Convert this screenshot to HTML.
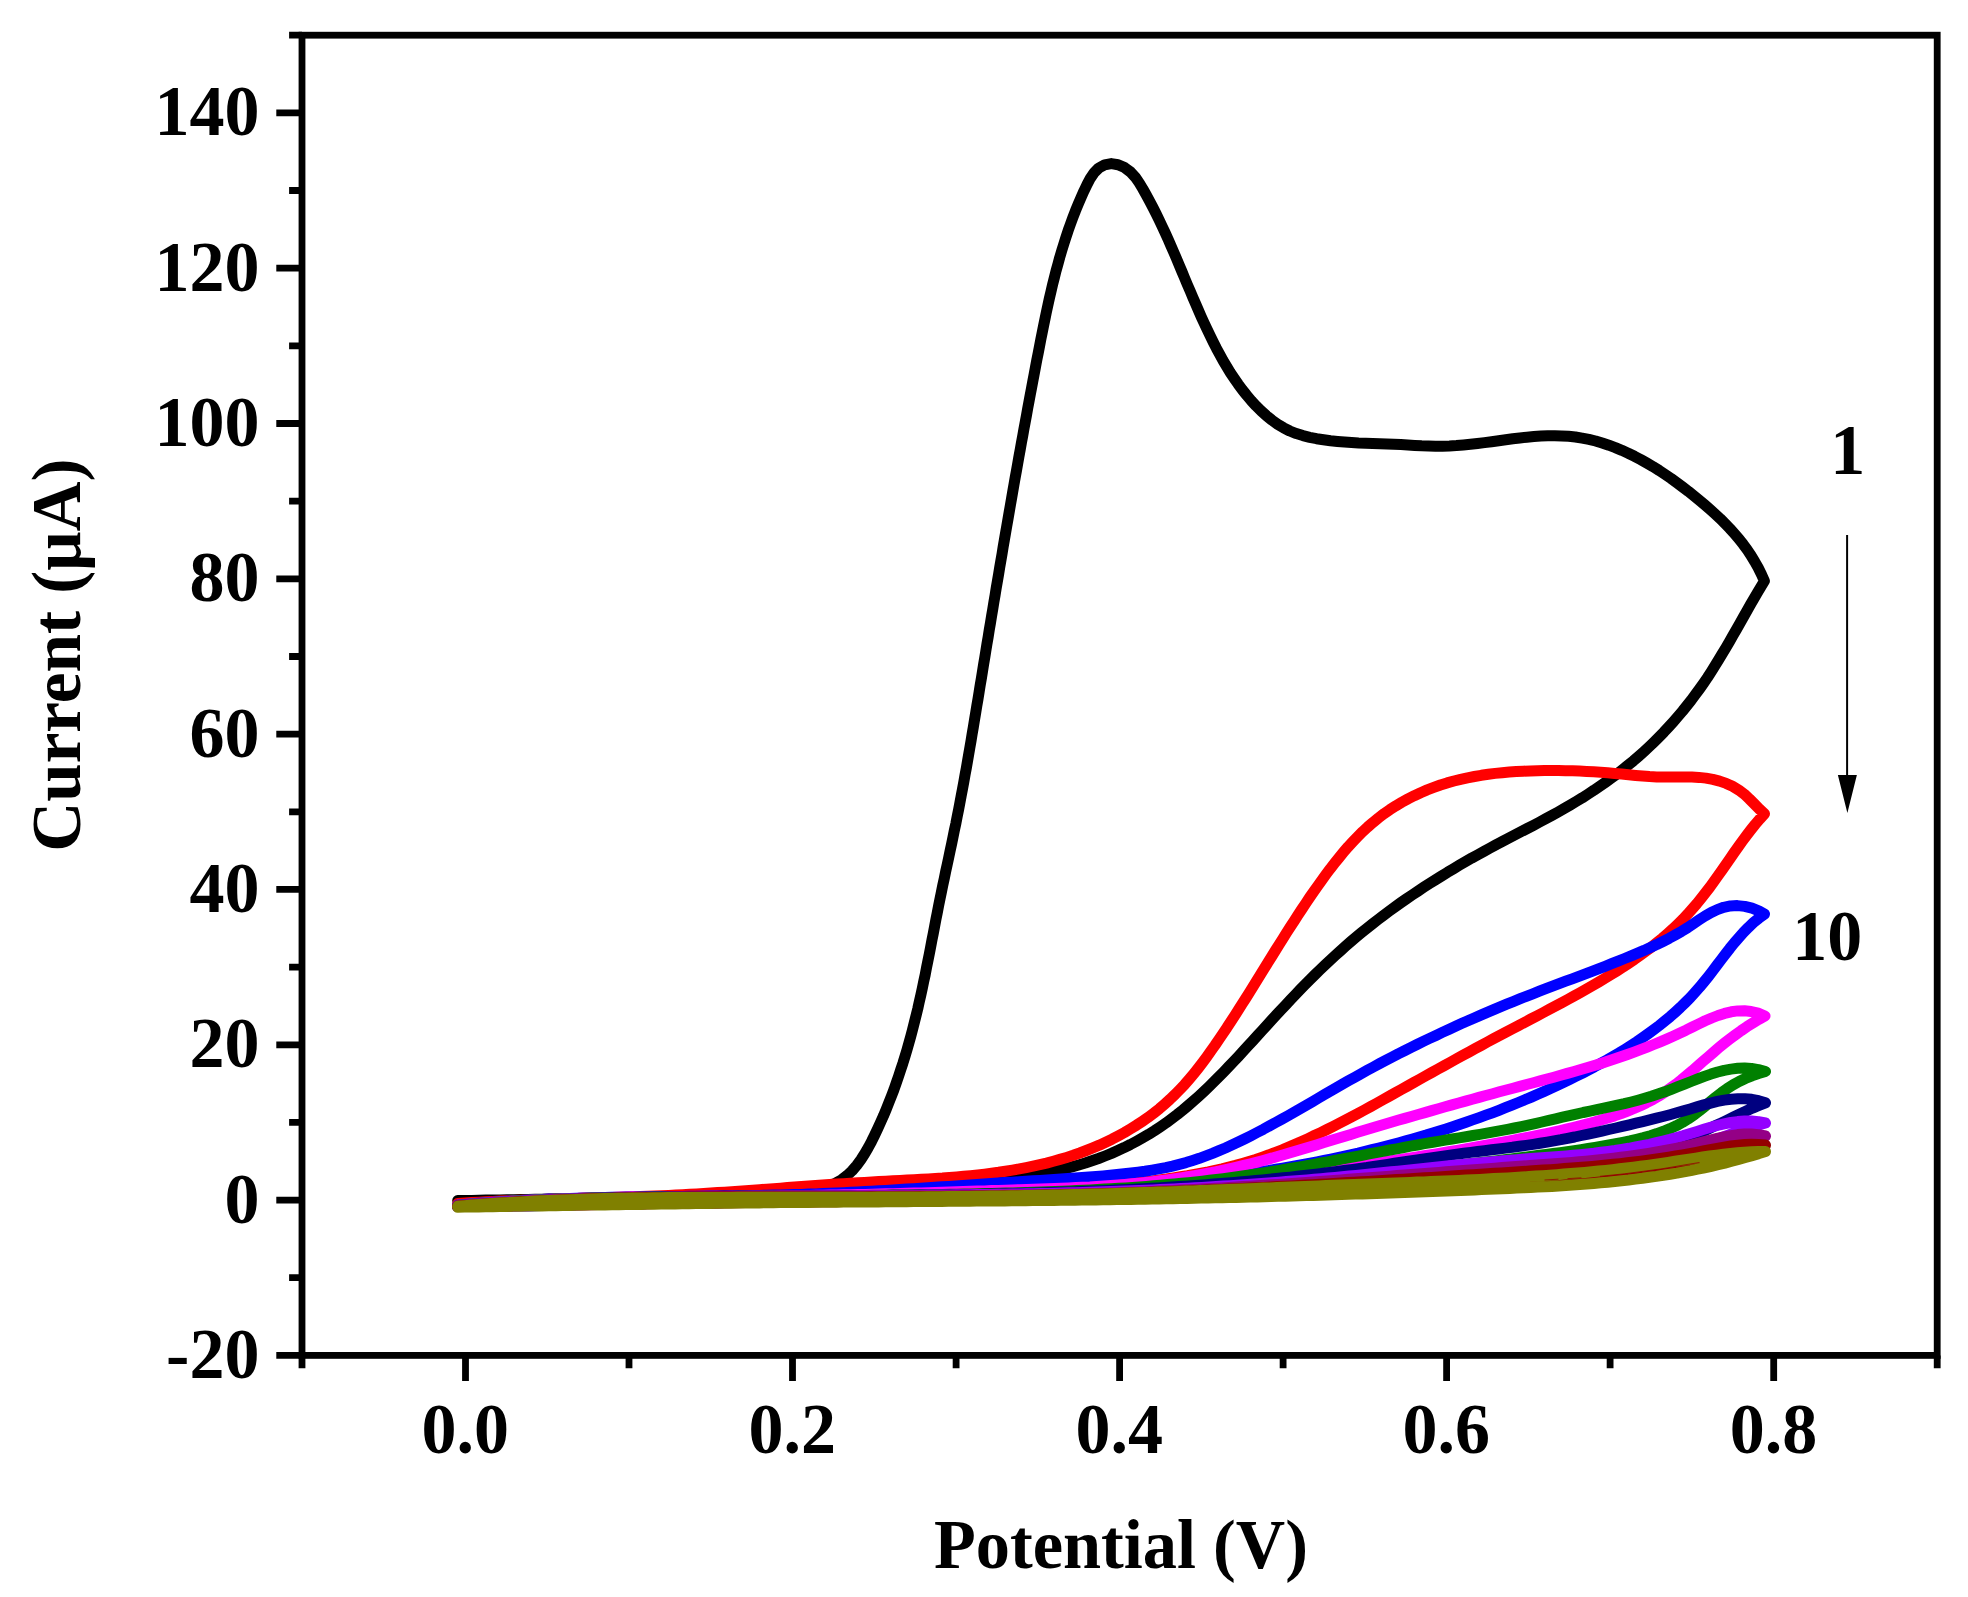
<!DOCTYPE html>
<html lang="en">
<head>
<meta charset="utf-8">
<title>Cyclic voltammograms - Current vs Potential</title>
<style>
html,body{margin:0;padding:0;background:#fff;}
body{width:1968px;height:1597px;overflow:hidden;}
svg{display:block;}
text{font-family:"Liberation Serif",serif;font-weight:bold;fill:#000;}
.tk{font-size:70px;}
.ax{stroke:#000;stroke-width:6.8;fill:none;stroke-linecap:butt;}
.cv{fill:none;stroke-width:11;stroke-linejoin:round;stroke-linecap:round;}
</style>
</head>
<body>
<svg width="1968" height="1597" viewBox="0 0 1968 1597">
<rect x="0" y="0" width="1968" height="1597" fill="#ffffff"/>

<g id="curves">
<path class="cv" stroke="#000000" d="M457.7,1200.6L464.7,1200.5L471.7,1200.4L478.8,1200.2L485.8,1200.1L492.8,1200.0L499.8,1199.9L506.8,1199.8L513.9,1199.7L520.9,1199.5L527.9,1199.4L534.9,1199.3L541.9,1199.2L548.9,1199.1L555.9,1198.9L562.9,1198.8L570.0,1198.7L577.0,1198.6L584.0,1198.4L591.0,1198.3L598.0,1198.2L605.0,1198.0L612.1,1197.9L619.1,1197.8L626.1,1197.6L633.1,1197.5L640.2,1197.3L647.2,1197.2L654.2,1197.0L661.2,1196.8L668.3,1196.6L675.3,1196.4L682.3,1196.2L689.3,1196.0L696.3,1195.8L703.4,1195.5L710.4,1195.2L717.4,1195.0L724.4,1194.7L731.4,1194.4L738.4,1194.0L745.4,1193.7L752.4,1193.3L759.4,1192.9L766.3,1192.5L773.3,1192.1L780.3,1191.6L787.3,1191.1L794.3,1190.6L801.4,1190.0L808.5,1189.3L815.6,1188.5L822.6,1187.3L829.4,1185.6L835.8,1183.1L841.7,1179.7L847.2,1175.4L852.2,1170.6L856.8,1165.2L861.0,1159.5L864.8,1153.6L868.3,1147.5L871.6,1141.3L874.7,1135.0L877.7,1128.6L880.6,1122.2L883.5,1115.8L886.2,1109.3L888.8,1102.8L891.4,1096.3L893.9,1089.7L896.2,1083.1L898.5,1076.5L900.7,1069.8L902.9,1063.2L905.0,1056.4L907.0,1049.7L908.9,1043.0L910.8,1036.2L912.6,1029.4L914.3,1022.6L916.0,1015.8L917.7,1009.0L919.2,1002.1L920.8,995.3L922.3,988.4L923.7,981.5L925.2,974.7L926.5,967.8L927.9,960.9L929.3,954.0L930.6,947.2L931.9,940.3L933.3,933.4L934.6,926.5L935.9,919.6L937.3,912.7L938.6,905.8L940.0,898.9L941.4,892.1L942.8,885.2L944.3,878.3L945.7,871.4L947.2,864.6L948.7,857.7L950.1,850.8L951.6,844.0L953.0,837.1L954.4,830.2L955.9,823.3L957.2,816.4L958.6,809.6L959.9,802.7L961.2,795.8L962.5,788.9L963.8,782.0L965.0,775.1L966.3,768.2L967.5,761.3L968.7,754.3L969.9,747.4L971.1,740.5L972.2,733.6L973.4,726.7L974.5,719.8L975.7,712.8L976.8,705.9L978.0,699.0L979.1,692.1L980.2,685.1L981.4,678.2L982.5,671.3L983.6,664.4L984.8,657.4L985.9,650.5L987.0,643.6L988.2,636.7L989.3,629.7L990.5,622.8L991.6,615.9L992.8,608.9L993.9,602.0L995.1,595.1L996.2,588.2L997.4,581.3L998.6,574.3L999.7,567.4L1000.9,560.5L1002.1,553.6L1003.2,546.6L1004.4,539.7L1005.6,532.8L1006.8,525.9L1008.0,519.0L1009.2,512.0L1010.4,505.1L1011.6,498.2L1012.8,491.3L1014.0,484.4L1015.2,477.5L1016.5,470.5L1017.7,463.6L1018.9,456.7L1020.2,449.8L1021.4,442.9L1022.7,436.0L1023.9,429.1L1025.2,422.2L1026.5,415.3L1027.7,408.4L1029.0,401.5L1030.3,394.6L1031.6,387.7L1032.9,380.8L1034.2,373.9L1035.5,367.0L1036.8,360.1L1038.2,353.2L1039.5,346.4L1040.8,339.5L1042.2,332.6L1043.6,325.7L1045.0,318.9L1046.4,312.0L1047.9,305.1L1049.4,298.3L1051.0,291.5L1052.6,284.6L1054.3,277.8L1056.0,271.0L1057.9,264.3L1059.7,257.5L1061.7,250.8L1063.8,244.0L1065.9,237.3L1068.1,230.7L1070.5,224.0L1072.9,217.4L1075.5,210.7L1078.2,204.2L1081.0,197.6L1083.9,191.1L1087.0,184.6L1090.3,178.3L1094.2,172.6L1098.8,168.0L1104.6,164.9L1111.3,163.6L1118.1,164.7L1124.6,167.6L1130.5,172.0L1135.3,177.2L1139.3,183.0L1142.9,189.0L1146.4,195.2L1149.7,201.3L1153.0,207.6L1156.1,213.8L1159.2,220.1L1162.2,226.5L1165.2,232.9L1168.1,239.3L1170.9,245.7L1173.7,252.1L1176.5,258.6L1179.2,265.1L1181.9,271.5L1184.6,278.0L1187.3,284.5L1190.1,290.9L1192.8,297.4L1195.6,303.8L1198.4,310.3L1201.2,316.7L1204.1,323.1L1207.1,329.4L1210.1,335.7L1213.2,342.0L1216.4,348.3L1219.7,354.4L1223.1,360.6L1226.7,366.6L1230.3,372.6L1234.2,378.4L1238.2,384.2L1242.3,389.8L1246.7,395.3L1251.3,400.7L1256.1,405.9L1261.1,410.9L1266.4,415.7L1271.9,420.1L1277.6,424.2L1283.6,427.8L1289.8,431.0L1296.3,433.6L1302.9,435.6L1309.7,437.3L1316.6,438.7L1323.5,439.8L1330.5,440.8L1337.5,441.5L1344.5,442.1L1351.6,442.6L1358.6,443.0L1365.7,443.2L1372.7,443.5L1379.8,443.7L1386.8,444.0L1393.8,444.3L1400.8,444.6L1407.8,445.0L1414.7,445.4L1421.6,445.8L1428.5,446.0L1435.5,446.2L1442.4,446.2L1449.4,446.0L1456.4,445.6L1463.4,445.0L1470.4,444.3L1477.5,443.5L1484.5,442.6L1491.6,441.7L1498.7,440.7L1505.7,439.8L1512.8,438.8L1519.8,438.0L1526.9,437.2L1533.9,436.6L1540.9,436.1L1547.8,435.8L1554.8,435.7L1561.7,435.9L1568.5,436.3L1575.4,437.0L1582.1,438.1L1588.9,439.4L1595.6,441.0L1602.2,443.0L1608.8,445.2L1615.3,447.6L1621.8,450.3L1628.2,453.2L1634.5,456.3L1640.8,459.6L1647.0,463.1L1653.1,466.7L1659.2,470.5L1665.2,474.5L1671.1,478.5L1676.9,482.7L1682.6,487.0L1688.3,491.3L1693.8,495.8L1699.3,500.3L1704.7,504.8L1710.0,509.4L1715.1,514.0L1720.2,518.7L1725.1,523.6L1729.8,528.5L1734.4,533.6L1738.9,538.8L1743.1,544.2L1747.2,549.8L1751.1,555.6L1754.7,561.6L1758.2,567.8L1761.4,574.3L1764.4,581.0L1760.8,587.0L1757.2,593.0L1753.7,599.0L1750.2,605.1L1746.7,611.2L1743.3,617.3L1739.8,623.4L1736.4,629.5L1732.9,635.6L1729.4,641.7L1725.9,647.7L1722.3,653.7L1718.7,659.7L1715.0,665.7L1711.3,671.6L1707.5,677.5L1703.5,683.3L1699.5,689.0L1695.4,694.6L1691.2,700.2L1686.8,705.7L1682.4,711.2L1677.9,716.5L1673.3,721.8L1668.6,727.0L1663.9,732.1L1659.0,737.1L1654.0,742.1L1649.0,746.9L1643.8,751.7L1638.6,756.3L1633.3,760.9L1627.9,765.3L1622.4,769.7L1616.9,774.0L1611.3,778.1L1605.6,782.2L1599.8,786.2L1594.0,790.2L1588.2,794.0L1582.3,797.8L1576.3,801.4L1570.3,805.0L1564.2,808.6L1558.2,812.0L1552.0,815.4L1545.9,818.7L1539.7,822.0L1533.5,825.3L1527.3,828.5L1521.1,831.7L1514.9,834.9L1508.7,838.1L1502.5,841.4L1496.3,844.6L1490.1,848.0L1484.0,851.3L1477.9,854.7L1471.7,858.1L1465.7,861.6L1459.6,865.1L1453.6,868.7L1447.5,872.3L1441.6,876.0L1435.6,879.7L1429.7,883.4L1423.8,887.2L1418.0,891.1L1412.1,895.0L1406.4,898.9L1400.6,902.9L1394.9,907.0L1389.2,911.1L1383.6,915.3L1378.1,919.5L1372.5,923.8L1367.0,928.2L1361.6,932.6L1356.2,937.0L1350.9,941.5L1345.6,946.1L1340.4,950.8L1335.2,955.5L1330.1,960.2L1325.0,965.0L1319.9,969.9L1314.9,974.8L1310.0,979.7L1305.0,984.7L1300.1,989.7L1295.3,994.7L1290.5,999.8L1285.7,1004.9L1280.9,1010.0L1276.2,1015.1L1271.4,1020.3L1266.7,1025.4L1262.0,1030.6L1257.3,1035.8L1252.6,1041.0L1247.9,1046.1L1243.1,1051.3L1238.4,1056.4L1233.6,1061.5L1228.7,1066.6L1223.9,1071.7L1219.0,1076.7L1214.0,1081.7L1209.0,1086.6L1203.9,1091.5L1198.8,1096.2L1193.5,1100.9L1188.2,1105.5L1182.9,1110.0L1177.4,1114.4L1171.8,1118.6L1166.2,1122.8L1160.5,1126.7L1154.6,1130.6L1148.7,1134.3L1142.7,1137.8L1136.6,1141.2L1130.4,1144.5L1124.2,1147.6L1117.8,1150.6L1111.5,1153.4L1105.0,1156.0L1098.5,1158.5L1091.9,1160.8L1085.3,1163.0L1078.6,1165.0L1071.9,1166.9L1065.1,1168.6L1058.3,1170.2L1051.5,1171.7L1044.6,1173.0L1037.7,1174.3L1030.8,1175.4L1023.8,1176.5L1016.9,1177.5L1009.9,1178.4L1002.9,1179.2L995.9,1180.0L988.9,1180.7L981.9,1181.4L974.8,1182.1L967.8,1182.7L960.9,1183.3L953.9,1183.8L946.9,1184.4L939.9,1184.9L933.0,1185.4L926.0,1185.9L919.0,1186.4L912.1,1186.9L905.1,1187.4L898.2,1187.8L891.2,1188.2L884.2,1188.7L877.3,1189.1L870.3,1189.5L863.3,1189.9L856.3,1190.3L849.3,1190.7L842.3,1191.2L835.3,1191.6L828.3,1192.1L821.3,1192.5L814.3,1193.0L807.4,1193.5L800.4,1194.1L793.4,1194.7L786.4,1195.3L779.4,1195.9L772.4,1196.5L765.5,1197.2L758.5,1197.8L751.5,1198.3L744.5,1198.9L737.6,1199.4L730.6,1199.9L723.6,1200.3L716.6,1200.8L709.7,1201.2L702.7,1201.5L695.7,1201.8L688.7,1202.1L681.7,1202.4L674.7,1202.7L667.7,1202.9L660.7,1203.1L653.7,1203.3L646.7,1203.5L639.7,1203.6L632.7,1203.7L625.7,1203.8L618.7,1204.0L611.7,1204.1L604.7,1204.1L597.7,1204.2L590.7,1204.3L583.7,1204.4L576.7,1204.5L569.7,1204.6L562.7,1204.7L555.7,1204.8L548.7,1204.9L541.7,1205.0L534.7,1205.2L527.7,1205.3L520.7,1205.5L513.7,1205.6L506.7,1205.8L499.7,1205.9L492.7,1206.0L485.7,1206.1L478.7,1206.2L471.7,1206.3L464.7,1206.2L457.7,1206.2"/>
<path class="cv" stroke="#FF0000" d="M457.7,1203.5L464.7,1203.0L471.7,1202.6L478.7,1202.2L485.7,1201.8L492.7,1201.5L499.7,1201.1L506.7,1200.8L513.7,1200.5L520.7,1200.2L527.8,1200.0L534.8,1199.7L541.9,1199.5L548.9,1199.3L556.0,1199.1L563.0,1198.9L570.1,1198.7L577.1,1198.5L584.2,1198.3L591.2,1198.1L598.3,1197.9L605.3,1197.7L612.4,1197.5L619.4,1197.2L626.5,1197.0L633.5,1196.8L640.6,1196.5L647.6,1196.3L654.6,1196.0L661.7,1195.7L668.7,1195.4L675.7,1195.1L682.7,1194.7L689.7,1194.3L696.7,1193.9L703.7,1193.5L710.7,1193.1L717.7,1192.6L724.7,1192.2L731.7,1191.7L738.7,1191.2L745.7,1190.7L752.6,1190.2L759.6,1189.7L766.6,1189.2L773.6,1188.7L780.6,1188.2L787.5,1187.6L794.5,1187.1L801.5,1186.6L808.5,1186.1L815.5,1185.6L822.5,1185.1L829.5,1184.6L836.6,1184.1L843.6,1183.7L850.6,1183.2L857.7,1182.8L864.7,1182.4L871.8,1182.0L878.8,1181.6L885.9,1181.2L893.0,1180.8L900.0,1180.5L907.1,1180.1L914.2,1179.7L921.3,1179.3L928.4,1178.9L935.4,1178.4L942.5,1178.0L949.5,1177.4L956.6,1176.9L963.6,1176.3L970.6,1175.6L977.7,1174.9L984.6,1174.1L991.6,1173.2L998.6,1172.3L1005.5,1171.2L1012.4,1170.1L1019.3,1168.9L1026.1,1167.6L1033.0,1166.2L1039.8,1164.7L1046.5,1163.1L1053.3,1161.3L1059.9,1159.4L1066.6,1157.4L1073.2,1155.3L1079.8,1153.0L1086.3,1150.5L1092.8,1147.9L1099.3,1145.2L1105.7,1142.2L1112.0,1139.2L1118.3,1135.9L1124.5,1132.5L1130.5,1128.9L1136.5,1125.2L1142.4,1121.3L1148.2,1117.3L1153.8,1113.1L1159.4,1108.7L1164.7,1104.1L1169.9,1099.4L1175.0,1094.5L1179.9,1089.5L1184.7,1084.4L1189.3,1079.1L1193.8,1073.7L1198.2,1068.2L1202.5,1062.6L1206.7,1056.9L1210.8,1051.1L1214.9,1045.4L1218.9,1039.5L1222.8,1033.7L1226.8,1027.8L1230.6,1021.9L1234.5,1016.0L1238.3,1010.1L1242.0,1004.2L1245.8,998.2L1249.5,992.3L1253.2,986.3L1256.9,980.3L1260.6,974.4L1264.3,968.4L1268.0,962.4L1271.7,956.5L1275.4,950.5L1279.1,944.6L1282.9,938.6L1286.6,932.7L1290.4,926.8L1294.2,920.9L1298.0,915.0L1301.9,909.1L1305.8,903.3L1309.7,897.4L1313.7,891.6L1317.8,885.9L1321.9,880.1L1326.0,874.4L1330.2,868.8L1334.6,863.2L1339.0,857.7L1343.4,852.3L1348.0,846.9L1352.8,841.7L1357.6,836.7L1362.6,831.7L1367.7,827.0L1373.0,822.4L1378.4,818.0L1384.0,813.7L1389.8,809.7L1395.7,805.9L1401.8,802.3L1408.0,798.9L1414.3,795.7L1420.7,792.7L1427.2,789.9L1433.8,787.4L1440.4,785.0L1447.1,782.9L1453.9,781.0L1460.7,779.3L1467.5,777.8L1474.4,776.5L1481.3,775.3L1488.3,774.3L1495.2,773.4L1502.2,772.7L1509.2,772.1L1516.3,771.6L1523.3,771.2L1530.3,770.9L1537.4,770.7L1544.4,770.6L1551.4,770.5L1558.5,770.6L1565.5,770.7L1572.5,770.8L1579.6,771.1L1586.6,771.4L1593.6,771.8L1600.6,772.3L1607.6,772.8L1614.6,773.5L1621.6,774.1L1628.6,774.8L1635.6,775.5L1642.6,776.1L1649.6,776.6L1656.7,776.9L1663.7,777.1L1670.8,777.1L1677.8,777.0L1684.9,776.9L1691.9,777.0L1698.9,777.4L1705.9,778.1L1712.8,779.4L1719.6,781.1L1726.2,783.4L1732.5,786.3L1738.6,789.9L1744.2,794.1L1749.4,799.0L1754.4,804.0L1759.4,809.1L1764.5,813.8L1759.8,819.0L1755.3,824.3L1750.9,829.8L1746.6,835.4L1742.4,841.0L1738.3,846.7L1734.2,852.5L1730.2,858.3L1726.2,864.1L1722.2,869.9L1718.1,875.6L1714.0,881.4L1709.9,887.1L1705.6,892.7L1701.3,898.2L1696.9,903.6L1692.3,908.9L1687.7,914.1L1682.9,919.2L1677.9,924.1L1672.9,928.9L1667.7,933.6L1662.4,938.2L1657.0,942.6L1651.5,947.0L1645.9,951.2L1640.2,955.3L1634.5,959.4L1628.6,963.3L1622.8,967.2L1616.8,971.0L1610.9,974.7L1604.8,978.4L1598.8,982.0L1592.7,985.5L1586.6,989.0L1580.5,992.5L1574.3,995.9L1568.2,999.3L1562.0,1002.6L1555.8,1005.9L1549.6,1009.2L1543.4,1012.5L1537.1,1015.8L1530.9,1019.0L1524.7,1022.3L1518.5,1025.6L1512.2,1028.8L1506.0,1032.1L1499.8,1035.4L1493.6,1038.7L1487.4,1042.0L1481.3,1045.4L1475.1,1048.7L1468.9,1052.1L1462.7,1055.4L1456.6,1058.8L1450.4,1062.2L1444.3,1065.6L1438.1,1069.0L1432.0,1072.4L1425.9,1075.8L1419.7,1079.2L1413.6,1082.6L1407.4,1086.1L1401.3,1089.5L1395.2,1092.9L1389.0,1096.4L1382.9,1099.8L1376.7,1103.2L1370.6,1106.6L1364.4,1110.0L1358.2,1113.3L1352.0,1116.6L1345.8,1119.9L1339.5,1123.1L1333.3,1126.3L1327.0,1129.5L1320.7,1132.6L1314.3,1135.6L1308.0,1138.6L1301.6,1141.5L1295.1,1144.3L1288.7,1147.1L1282.2,1149.8L1275.6,1152.3L1269.1,1154.8L1262.5,1157.1L1255.8,1159.4L1249.1,1161.5L1242.4,1163.5L1235.6,1165.4L1228.8,1167.1L1222.0,1168.8L1215.1,1170.3L1208.3,1171.8L1201.4,1173.1L1194.5,1174.4L1187.5,1175.7L1180.6,1176.8L1173.7,1177.9L1166.7,1179.0L1159.8,1179.9L1152.8,1180.9L1145.9,1181.7L1138.9,1182.5L1131.9,1183.3L1124.9,1184.0L1117.9,1184.7L1110.9,1185.3L1103.9,1185.9L1096.9,1186.5L1089.9,1187.0L1082.9,1187.5L1075.9,1188.0L1068.9,1188.4L1061.8,1188.8L1054.8,1189.2L1047.8,1189.6L1040.8,1189.9L1033.7,1190.3L1026.7,1190.6L1019.7,1190.9L1012.6,1191.2L1005.6,1191.5L998.6,1191.8L991.5,1192.2L984.5,1192.5L977.5,1192.8L970.5,1193.1L963.4,1193.4L956.4,1193.7L949.4,1194.0L942.4,1194.3L935.4,1194.6L928.3,1194.9L921.3,1195.2L914.3,1195.5L907.3,1195.8L900.3,1196.1L893.2,1196.4L886.2,1196.6L879.2,1196.9L872.2,1197.2L865.2,1197.5L858.2,1197.7L851.1,1198.0L844.1,1198.3L837.1,1198.5L830.1,1198.8L823.1,1199.0L816.1,1199.3L809.0,1199.5L802.0,1199.7L795.0,1199.9L788.0,1200.2L780.9,1200.4L773.9,1200.6L766.9,1200.8L759.9,1201.0L752.8,1201.2L745.8,1201.4L738.8,1201.5L731.8,1201.7L724.7,1201.9L717.7,1202.1L710.7,1202.2L703.7,1202.4L696.6,1202.5L689.6,1202.7L682.6,1202.8L675.5,1203.0L668.5,1203.1L661.5,1203.3L654.5,1203.4L647.4,1203.5L640.4,1203.7L633.4,1203.8L626.3,1203.9L619.3,1204.0L612.3,1204.1L605.3,1204.3L598.2,1204.4L591.2,1204.5L584.2,1204.6L577.1,1204.7L570.1,1204.8L563.1,1204.9L556.1,1205.0L549.0,1205.1L542.0,1205.2L535.0,1205.3L527.9,1205.4L520.9,1205.5L513.9,1205.6L506.9,1205.7L499.8,1205.8L492.8,1205.9L485.8,1206.0L478.8,1206.1L471.7,1206.2L464.7,1206.3L457.7,1206.4"/>
<path class="cv" stroke="#0000FF" d="M457.7,1205.1L464.7,1204.5L471.7,1203.8L478.7,1203.3L485.7,1202.7L492.7,1202.2L499.7,1201.7L506.7,1201.3L513.7,1200.9L520.7,1200.5L527.8,1200.1L534.8,1199.8L541.8,1199.4L548.8,1199.1L555.8,1198.9L562.8,1198.6L569.8,1198.4L576.9,1198.2L583.9,1198.0L590.9,1197.8L597.9,1197.6L604.9,1197.5L612.0,1197.3L619.0,1197.2L626.0,1197.1L633.0,1197.0L640.1,1196.9L647.1,1196.8L654.1,1196.7L661.1,1196.6L668.2,1196.6L675.2,1196.5L682.2,1196.4L689.2,1196.3L696.3,1196.3L703.3,1196.2L710.3,1196.1L717.3,1196.0L724.4,1196.0L731.4,1195.9L738.4,1195.8L745.4,1195.7L752.5,1195.5L759.5,1195.4L766.5,1195.3L773.5,1195.1L780.5,1195.0L787.6,1194.8L794.6,1194.6L801.6,1194.4L808.6,1194.1L815.6,1193.9L822.7,1193.6L829.7,1193.3L836.7,1193.0L843.7,1192.7L850.7,1192.3L857.7,1192.0L864.7,1191.6L871.8,1191.2L878.8,1190.8L885.8,1190.4L892.8,1190.0L899.8,1189.6L906.8,1189.1L913.8,1188.7L920.8,1188.2L927.8,1187.8L934.8,1187.3L941.8,1186.8L948.9,1186.4L955.9,1185.9L962.9,1185.4L969.9,1184.9L976.9,1184.5L983.9,1184.0L990.9,1183.5L997.9,1183.1L1004.9,1182.6L1011.9,1182.2L1018.9,1181.7L1025.9,1181.3L1033.0,1180.8L1040.0,1180.4L1047.0,1180.0L1054.0,1179.5L1061.0,1179.1L1068.0,1178.6L1075.0,1178.1L1082.0,1177.6L1089.0,1177.0L1096.0,1176.5L1103.0,1175.9L1110.0,1175.2L1117.0,1174.5L1124.0,1173.8L1131.0,1173.0L1138.0,1172.1L1144.9,1171.2L1151.9,1170.1L1158.8,1168.9L1165.7,1167.6L1172.5,1166.1L1179.3,1164.4L1186.0,1162.6L1192.7,1160.5L1199.3,1158.3L1205.9,1155.9L1212.5,1153.4L1219.0,1150.7L1225.4,1148.0L1231.8,1145.1L1238.2,1142.1L1244.5,1139.0L1250.8,1135.8L1257.1,1132.5L1263.3,1129.3L1269.5,1125.9L1275.7,1122.5L1281.9,1119.1L1288.0,1115.7L1294.1,1112.2L1300.2,1108.7L1306.3,1105.2L1312.4,1101.7L1318.4,1098.1L1324.5,1094.6L1330.6,1091.1L1336.7,1087.6L1342.7,1084.1L1348.8,1080.6L1354.9,1077.2L1361.1,1073.7L1367.2,1070.3L1373.4,1067.0L1379.5,1063.7L1385.7,1060.4L1392.0,1057.2L1398.2,1053.9L1404.5,1050.8L1410.7,1047.6L1417.0,1044.5L1423.3,1041.4L1429.6,1038.4L1436.0,1035.4L1442.3,1032.4L1448.7,1029.4L1455.1,1026.5L1461.5,1023.6L1467.9,1020.8L1474.3,1017.9L1480.8,1015.1L1487.2,1012.4L1493.7,1009.6L1500.2,1006.9L1506.7,1004.2L1513.2,1001.6L1519.7,998.9L1526.3,996.3L1532.8,993.8L1539.4,991.2L1545.9,988.7L1552.5,986.2L1559.1,983.7L1565.7,981.2L1572.2,978.8L1578.8,976.3L1585.4,973.8L1592.0,971.3L1598.5,968.8L1605.1,966.3L1611.6,963.7L1618.1,961.1L1624.6,958.5L1631.1,955.8L1637.6,953.1L1644.0,950.4L1650.4,947.5L1656.7,944.6L1663.0,941.5L1669.2,938.3L1675.4,934.9L1681.5,931.4L1687.5,927.7L1693.4,923.7L1699.2,919.8L1705.1,916.0L1711.2,912.5L1717.3,909.6L1723.7,907.3L1730.4,905.9L1737.4,905.6L1744.7,906.4L1752.0,908.2L1758.7,910.8L1764.5,914.0L1758.9,918.2L1753.5,922.6L1748.4,927.4L1743.5,932.4L1738.9,937.6L1734.3,942.9L1729.9,948.3L1725.6,953.9L1721.3,959.5L1717.0,965.1L1712.8,970.7L1708.5,976.3L1704.1,981.8L1699.6,987.2L1695.0,992.4L1690.3,997.6L1685.4,1002.5L1680.4,1007.4L1675.3,1012.1L1670.1,1016.7L1664.8,1021.1L1659.3,1025.5L1653.8,1029.7L1648.2,1033.8L1642.5,1037.8L1636.7,1041.8L1630.9,1045.6L1625.0,1049.3L1619.0,1053.0L1612.9,1056.5L1606.9,1060.0L1600.7,1063.4L1594.5,1066.8L1588.3,1070.0L1582.1,1073.3L1575.8,1076.4L1569.5,1079.5L1563.2,1082.6L1556.9,1085.6L1550.5,1088.5L1544.1,1091.4L1537.7,1094.3L1531.3,1097.1L1524.9,1099.8L1518.4,1102.5L1511.9,1105.1L1505.4,1107.7L1498.9,1110.3L1492.4,1112.8L1485.8,1115.2L1479.2,1117.6L1472.6,1119.9L1466.0,1122.2L1459.4,1124.5L1452.8,1126.7L1446.1,1128.9L1439.4,1131.0L1432.8,1133.0L1426.1,1135.1L1419.3,1137.0L1412.6,1139.0L1405.9,1140.9L1399.1,1142.7L1392.3,1144.5L1385.6,1146.3L1378.8,1148.0L1372.0,1149.7L1365.2,1151.3L1358.3,1153.0L1351.5,1154.5L1344.7,1156.0L1337.8,1157.5L1330.9,1159.0L1324.1,1160.4L1317.2,1161.8L1310.3,1163.1L1303.4,1164.4L1296.5,1165.7L1289.6,1166.9L1282.7,1168.1L1275.8,1169.2L1268.9,1170.4L1261.9,1171.4L1255.0,1172.5L1248.0,1173.5L1241.1,1174.5L1234.2,1175.5L1227.2,1176.4L1220.3,1177.3L1213.3,1178.2L1206.4,1179.0L1199.4,1179.8L1192.4,1180.6L1185.5,1181.3L1178.5,1182.1L1171.5,1182.8L1164.6,1183.4L1157.6,1184.1L1150.6,1184.7L1143.7,1185.3L1136.7,1185.9L1129.7,1186.4L1122.7,1187.0L1115.8,1187.5L1108.8,1187.9L1101.8,1188.4L1094.8,1188.9L1087.8,1189.3L1080.8,1189.7L1073.9,1190.1L1066.9,1190.5L1059.9,1190.9L1052.9,1191.2L1045.9,1191.5L1038.9,1191.9L1031.9,1192.2L1024.9,1192.5L1017.9,1192.8L1010.9,1193.0L1003.9,1193.3L996.9,1193.6L989.9,1193.8L982.9,1194.0L975.9,1194.3L968.9,1194.5L961.9,1194.7L954.9,1194.9L947.9,1195.1L940.9,1195.3L933.9,1195.5L926.9,1195.7L919.9,1195.9L912.9,1196.1L905.9,1196.3L898.9,1196.5L891.9,1196.7L884.9,1196.9L877.9,1197.1L870.9,1197.3L863.9,1197.5L856.9,1197.7L849.8,1197.9L842.8,1198.2L835.8,1198.4L828.8,1198.6L821.8,1198.9L814.8,1199.1L807.8,1199.4L800.8,1199.6L793.8,1199.9L786.8,1200.2L779.8,1200.4L772.8,1200.7L765.8,1201.0L758.8,1201.3L751.8,1201.5L744.8,1201.8L737.8,1202.0L730.8,1202.2L723.8,1202.4L716.8,1202.6L709.8,1202.8L702.8,1203.0L695.8,1203.1L688.8,1203.2L681.8,1203.3L674.8,1203.4L667.8,1203.5L660.8,1203.5L653.8,1203.6L646.8,1203.6L639.8,1203.7L632.8,1203.8L625.8,1203.8L618.8,1203.9L611.8,1204.0L604.8,1204.1L597.8,1204.3L590.8,1204.4L583.8,1204.6L576.8,1204.7L569.8,1204.9L562.8,1205.1L555.8,1205.3L548.7,1205.4L541.7,1205.6L534.7,1205.8L527.7,1205.9L520.7,1206.1L513.7,1206.2L506.7,1206.3L499.7,1206.4L492.7,1206.5L485.7,1206.6L478.7,1206.6L471.7,1206.6L464.7,1206.6L457.7,1206.6"/>
<path class="cv" stroke="#FF00FF" d="M457.7,1205.2L464.7,1204.6L471.7,1204.1L478.7,1203.5L485.7,1203.0L492.7,1202.5L499.7,1202.0L506.8,1201.6L513.8,1201.2L520.8,1200.8L527.8,1200.4L534.8,1200.0L541.8,1199.7L548.9,1199.4L555.9,1199.1L562.9,1198.8L569.9,1198.6L576.9,1198.4L584.0,1198.1L591.0,1197.9L598.0,1197.8L605.0,1197.6L612.1,1197.4L619.1,1197.3L626.1,1197.2L633.1,1197.0L640.2,1196.9L647.2,1196.8L654.2,1196.7L661.3,1196.7L668.3,1196.6L675.3,1196.5L682.4,1196.5L689.4,1196.4L696.4,1196.4L703.4,1196.3L710.5,1196.3L717.5,1196.2L724.5,1196.2L731.6,1196.1L738.6,1196.1L745.6,1196.0L752.7,1196.0L759.7,1195.9L766.7,1195.9L773.7,1195.8L780.8,1195.8L787.8,1195.7L794.8,1195.6L801.9,1195.5L808.9,1195.4L815.9,1195.3L822.9,1195.2L830.0,1195.1L837.0,1195.0L844.0,1194.8L851.0,1194.7L858.1,1194.5L865.1,1194.4L872.1,1194.2L879.1,1194.0L886.2,1193.8L893.2,1193.7L900.2,1193.5L907.2,1193.3L914.2,1193.1L921.3,1192.9L928.3,1192.7L935.3,1192.4L942.3,1192.2L949.4,1192.0L956.4,1191.8L963.4,1191.6L970.4,1191.3L977.5,1191.1L984.5,1190.9L991.5,1190.6L998.5,1190.4L1005.6,1190.2L1012.6,1190.0L1019.6,1189.7L1026.7,1189.5L1033.7,1189.3L1040.7,1189.0L1047.8,1188.8L1054.8,1188.5L1061.8,1188.2L1068.8,1187.9L1075.9,1187.6L1082.9,1187.2L1089.9,1186.9L1096.9,1186.4L1103.9,1186.0L1110.9,1185.5L1117.9,1185.0L1124.9,1184.4L1131.9,1183.8L1138.9,1183.1L1145.9,1182.4L1152.9,1181.6L1159.9,1180.8L1166.8,1179.9L1173.8,1178.9L1180.7,1177.9L1187.7,1176.8L1194.6,1175.6L1201.5,1174.4L1208.4,1173.1L1215.3,1171.8L1222.2,1170.4L1229.1,1168.9L1235.9,1167.3L1242.8,1165.7L1249.6,1164.0L1256.4,1162.3L1263.2,1160.5L1270.0,1158.6L1276.7,1156.7L1283.5,1154.8L1290.2,1152.8L1297.0,1150.8L1303.7,1148.8L1310.5,1146.7L1317.2,1144.7L1323.9,1142.6L1330.6,1140.5L1337.3,1138.5L1344.1,1136.4L1350.8,1134.4L1357.5,1132.3L1364.3,1130.3L1371.0,1128.3L1377.7,1126.3L1384.5,1124.3L1391.2,1122.3L1397.9,1120.3L1404.7,1118.4L1411.4,1116.4L1418.2,1114.5L1424.9,1112.6L1431.7,1110.6L1438.4,1108.7L1445.2,1106.8L1452.0,1104.9L1458.7,1103.0L1465.5,1101.1L1472.3,1099.3L1479.0,1097.4L1485.8,1095.5L1492.6,1093.7L1499.4,1091.8L1506.2,1090.0L1513.0,1088.2L1519.8,1086.4L1526.6,1084.5L1533.4,1082.7L1540.2,1080.9L1547.0,1079.0L1553.8,1077.2L1560.6,1075.3L1567.3,1073.4L1574.1,1071.5L1580.8,1069.5L1587.6,1067.5L1594.3,1065.5L1601.0,1063.4L1607.6,1061.3L1614.3,1059.1L1620.9,1056.8L1627.5,1054.5L1634.1,1052.1L1640.6,1049.7L1647.2,1047.1L1653.7,1044.5L1660.2,1041.8L1666.6,1039.1L1673.1,1036.2L1679.5,1033.2L1686.0,1030.2L1692.4,1027.0L1698.8,1023.9L1705.2,1020.8L1711.7,1018.0L1718.1,1015.5L1724.6,1013.4L1731.2,1011.8L1737.8,1010.9L1744.5,1010.8L1751.2,1011.5L1758.1,1013.2L1765.0,1016.0L1758.8,1019.4L1752.8,1023.0L1746.9,1026.7L1741.2,1030.6L1735.5,1034.7L1729.9,1038.9L1724.4,1043.2L1719.0,1047.6L1713.6,1052.2L1708.3,1056.8L1702.9,1061.4L1697.6,1066.1L1692.3,1070.8L1686.9,1075.3L1681.5,1079.8L1675.9,1084.2L1670.3,1088.3L1664.6,1092.3L1658.8,1096.0L1652.8,1099.5L1646.6,1102.7L1640.4,1105.7L1634.0,1108.5L1627.6,1111.1L1621.1,1113.6L1614.5,1115.9L1607.8,1118.0L1601.1,1120.0L1594.4,1122.0L1587.6,1123.8L1580.8,1125.6L1574.0,1127.3L1567.2,1128.9L1560.3,1130.5L1553.5,1132.0L1546.6,1133.5L1539.8,1134.9L1532.9,1136.3L1526.0,1137.7L1519.1,1139.0L1512.3,1140.3L1505.4,1141.6L1498.5,1142.9L1491.6,1144.2L1484.7,1145.4L1477.8,1146.7L1470.9,1147.9L1464.0,1149.1L1457.1,1150.3L1450.1,1151.5L1443.2,1152.6L1436.3,1153.8L1429.4,1154.9L1422.5,1156.0L1415.5,1157.1L1408.6,1158.2L1401.7,1159.2L1394.8,1160.3L1387.8,1161.3L1380.9,1162.3L1374.0,1163.3L1367.0,1164.3L1360.1,1165.2L1353.1,1166.2L1346.2,1167.1L1339.2,1168.0L1332.3,1169.0L1325.4,1169.8L1318.4,1170.7L1311.4,1171.6L1304.5,1172.4L1297.5,1173.2L1290.6,1174.0L1283.6,1174.8L1276.7,1175.6L1269.7,1176.4L1262.7,1177.1L1255.8,1177.9L1248.8,1178.6L1241.8,1179.3L1234.8,1180.0L1227.9,1180.7L1220.9,1181.3L1213.9,1182.0L1206.9,1182.6L1200.0,1183.2L1193.0,1183.8L1186.0,1184.4L1179.0,1185.0L1172.0,1185.5L1165.1,1186.1L1158.1,1186.6L1151.1,1187.1L1144.1,1187.6L1137.1,1188.1L1130.1,1188.6L1123.1,1189.0L1116.1,1189.5L1109.1,1189.9L1102.2,1190.3L1095.2,1190.7L1088.2,1191.1L1081.2,1191.5L1074.2,1191.9L1067.2,1192.3L1060.2,1192.6L1053.2,1192.9L1046.2,1193.3L1039.2,1193.6L1032.2,1193.9L1025.2,1194.2L1018.2,1194.5L1011.2,1194.8L1004.2,1195.1L997.2,1195.3L990.2,1195.6L983.2,1195.9L976.2,1196.1L969.1,1196.3L962.1,1196.6L955.1,1196.8L948.1,1197.0L941.1,1197.2L934.1,1197.4L927.1,1197.6L920.1,1197.8L913.1,1198.0L906.1,1198.2L899.1,1198.4L892.1,1198.6L885.1,1198.7L878.1,1198.9L871.1,1199.1L864.0,1199.2L857.0,1199.4L850.0,1199.6L843.0,1199.7L836.0,1199.9L829.0,1200.0L822.0,1200.2L815.0,1200.3L808.0,1200.5L801.0,1200.6L794.0,1200.8L787.0,1200.9L780.0,1201.0L772.9,1201.2L765.9,1201.3L758.9,1201.5L751.9,1201.6L744.9,1201.8L737.9,1201.9L730.9,1202.1L723.9,1202.2L716.9,1202.3L709.9,1202.5L702.9,1202.6L695.9,1202.8L688.9,1202.9L681.9,1203.0L674.9,1203.2L667.9,1203.3L660.9,1203.5L653.9,1203.6L646.9,1203.7L639.9,1203.9L632.9,1204.0L625.9,1204.1L618.9,1204.3L611.9,1204.4L604.8,1204.5L597.8,1204.6L590.8,1204.7L583.8,1204.9L576.8,1205.0L569.8,1205.1L562.8,1205.2L555.8,1205.3L548.8,1205.4L541.8,1205.5L534.8,1205.6L527.8,1205.7L520.8,1205.8L513.8,1205.9L506.8,1206.0L499.8,1206.1L492.8,1206.2L485.7,1206.3L478.7,1206.4L471.7,1206.5L464.7,1206.5L457.7,1206.6"/>
<path class="cv" stroke="#008000" d="M457.7,1205.4L464.7,1204.7L471.7,1204.1L478.7,1203.5L485.7,1202.9L492.7,1202.4L499.8,1201.9L506.8,1201.4L513.8,1201.0L520.8,1200.6L527.8,1200.3L534.9,1199.9L541.9,1199.6L548.9,1199.4L555.9,1199.1L563.0,1198.9L570.0,1198.7L577.0,1198.5L584.1,1198.3L591.1,1198.1L598.1,1198.0L605.2,1197.8L612.2,1197.7L619.2,1197.6L626.3,1197.5L633.3,1197.4L640.3,1197.3L647.4,1197.2L654.4,1197.1L661.4,1197.0L668.5,1197.0L675.5,1196.9L682.5,1196.8L689.6,1196.7L696.6,1196.7L703.6,1196.6L710.7,1196.5L717.7,1196.5L724.7,1196.4L731.8,1196.4L738.8,1196.3L745.8,1196.3L752.9,1196.2L759.9,1196.2L766.9,1196.1L774.0,1196.0L781.0,1196.0L788.0,1195.9L795.1,1195.9L802.1,1195.8L809.1,1195.8L816.2,1195.8L823.2,1195.7L830.2,1195.6L837.3,1195.6L844.3,1195.5L851.3,1195.5L858.4,1195.4L865.4,1195.4L872.4,1195.3L879.5,1195.2L886.5,1195.2L893.5,1195.1L900.6,1195.0L907.6,1194.9L914.6,1194.8L921.7,1194.8L928.7,1194.7L935.7,1194.5L942.8,1194.4L949.8,1194.3L956.8,1194.2L963.9,1194.1L970.9,1193.9L977.9,1193.8L984.9,1193.6L992.0,1193.4L999.0,1193.3L1006.0,1193.1L1013.1,1192.9L1020.1,1192.7L1027.1,1192.4L1034.2,1192.2L1041.2,1192.0L1048.2,1191.7L1055.3,1191.4L1062.3,1191.2L1069.3,1190.9L1076.4,1190.6L1083.4,1190.2L1090.4,1189.9L1097.4,1189.5L1104.5,1189.1L1111.5,1188.7L1118.5,1188.3L1125.5,1187.9L1132.5,1187.4L1139.5,1186.9L1146.5,1186.4L1153.6,1185.8L1160.6,1185.2L1167.6,1184.6L1174.6,1184.0L1181.6,1183.3L1188.5,1182.6L1195.5,1181.9L1202.5,1181.1L1209.5,1180.3L1216.5,1179.5L1223.5,1178.6L1230.4,1177.7L1237.4,1176.8L1244.3,1175.8L1251.3,1174.8L1258.2,1173.7L1265.2,1172.6L1272.1,1171.5L1279.1,1170.4L1286.0,1169.2L1292.9,1168.0L1299.9,1166.8L1306.8,1165.6L1313.7,1164.3L1320.7,1163.0L1327.6,1161.8L1334.5,1160.5L1341.4,1159.2L1348.3,1157.9L1355.3,1156.6L1362.2,1155.3L1369.1,1153.9L1376.0,1152.6L1382.9,1151.3L1389.9,1150.0L1396.8,1148.8L1403.7,1147.5L1410.6,1146.2L1417.5,1145.0L1424.5,1143.7L1431.4,1142.5L1438.3,1141.3L1445.2,1140.1L1452.2,1139.0L1459.1,1137.8L1466.0,1136.7L1473.0,1135.5L1479.9,1134.4L1486.8,1133.2L1493.7,1131.9L1500.6,1130.7L1507.5,1129.4L1514.4,1128.0L1521.3,1126.6L1528.2,1125.1L1535.1,1123.6L1541.9,1122.0L1548.8,1120.4L1555.6,1118.8L1562.5,1117.2L1569.4,1115.6L1576.2,1114.1L1583.1,1112.5L1590.0,1111.1L1596.8,1109.6L1603.7,1108.2L1610.6,1106.7L1617.4,1105.2L1624.3,1103.7L1631.1,1102.0L1637.8,1100.2L1644.6,1098.3L1651.3,1096.3L1658.0,1094.1L1664.7,1091.8L1671.3,1089.3L1677.9,1086.7L1684.5,1084.1L1691.1,1081.5L1697.7,1078.9L1704.3,1076.4L1710.9,1074.1L1717.6,1072.0L1724.2,1070.3L1731.0,1069.1L1737.7,1068.3L1744.6,1068.0L1751.5,1068.5L1758.4,1069.6L1765.5,1071.5L1758.6,1073.5L1751.9,1075.8L1745.4,1078.5L1739.1,1081.5L1733.0,1084.9L1727.1,1088.7L1721.4,1092.8L1715.9,1097.1L1710.4,1101.6L1705.0,1106.2L1699.5,1110.7L1694.0,1115.0L1688.2,1118.9L1682.3,1122.5L1676.2,1125.8L1669.9,1128.7L1663.5,1131.3L1656.9,1133.6L1650.3,1135.7L1643.5,1137.6L1636.7,1139.3L1629.8,1140.9L1622.9,1142.3L1615.9,1143.7L1609.0,1145.0L1602.0,1146.2L1595.1,1147.4L1588.1,1148.5L1581.1,1149.6L1574.2,1150.6L1567.2,1151.6L1560.2,1152.6L1553.3,1153.5L1546.3,1154.4L1539.3,1155.3L1532.3,1156.2L1525.4,1157.1L1518.4,1158.0L1511.4,1158.9L1504.4,1159.7L1497.4,1160.6L1490.4,1161.4L1483.4,1162.2L1476.5,1163.0L1469.5,1163.8L1462.5,1164.6L1455.5,1165.3L1448.5,1166.1L1441.5,1166.8L1434.5,1167.6L1427.5,1168.3L1420.5,1169.0L1413.5,1169.7L1406.5,1170.4L1399.5,1171.1L1392.5,1171.8L1385.5,1172.5L1378.5,1173.1L1371.5,1173.8L1364.5,1174.4L1357.5,1175.0L1350.5,1175.6L1343.4,1176.2L1336.4,1176.8L1329.4,1177.4L1322.4,1178.0L1315.4,1178.6L1308.4,1179.1L1301.4,1179.7L1294.4,1180.2L1287.3,1180.7L1280.3,1181.3L1273.3,1181.8L1266.3,1182.3L1259.3,1182.8L1252.3,1183.3L1245.2,1183.7L1238.2,1184.2L1231.2,1184.7L1224.2,1185.1L1217.2,1185.6L1210.1,1186.0L1203.1,1186.4L1196.1,1186.9L1189.1,1187.3L1182.0,1187.7L1175.0,1188.1L1168.0,1188.5L1161.0,1188.9L1153.9,1189.2L1146.9,1189.6L1139.9,1190.0L1132.9,1190.3L1125.8,1190.7L1118.8,1191.0L1111.8,1191.4L1104.8,1191.7L1097.7,1192.0L1090.7,1192.3L1083.7,1192.6L1076.7,1192.9L1069.6,1193.2L1062.6,1193.5L1055.6,1193.8L1048.5,1194.1L1041.5,1194.4L1034.5,1194.6L1027.5,1194.9L1020.4,1195.2L1013.4,1195.4L1006.4,1195.7L999.3,1195.9L992.3,1196.1L985.3,1196.4L978.2,1196.6L971.2,1196.8L964.2,1197.0L957.1,1197.2L950.1,1197.5L943.1,1197.7L936.0,1197.9L929.0,1198.1L922.0,1198.2L914.9,1198.4L907.9,1198.6L900.9,1198.8L893.8,1199.0L886.8,1199.1L879.8,1199.3L872.7,1199.5L865.7,1199.6L858.7,1199.8L851.6,1200.0L844.6,1200.1L837.6,1200.3L830.5,1200.4L823.5,1200.6L816.5,1200.7L809.4,1200.8L802.4,1201.0L795.4,1201.1L788.3,1201.2L781.3,1201.4L774.3,1201.5L767.2,1201.6L760.2,1201.7L753.1,1201.9L746.1,1202.0L739.1,1202.1L732.0,1202.2L725.0,1202.3L718.0,1202.4L710.9,1202.6L703.9,1202.7L696.9,1202.8L689.8,1202.9L682.8,1203.0L675.8,1203.1L668.7,1203.2L661.7,1203.3L654.7,1203.4L647.6,1203.5L640.6,1203.6L633.5,1203.7L626.5,1203.8L619.5,1204.0L612.4,1204.1L605.4,1204.2L598.4,1204.3L591.3,1204.4L584.3,1204.5L577.3,1204.6L570.2,1204.7L563.2,1204.8L556.2,1204.9L549.1,1205.0L542.1,1205.1L535.1,1205.3L528.0,1205.4L521.0,1205.5L514.0,1205.6L506.9,1205.7L499.9,1205.8L492.9,1206.0L485.8,1206.1L478.8,1206.2L471.8,1206.3L464.7,1206.5L457.7,1206.6"/>
<path class="cv" stroke="#000080" d="M457.7,1205.5L464.7,1205.0L471.7,1204.5L478.7,1204.0L485.7,1203.5L492.6,1203.1L499.6,1202.6L506.6,1202.2L513.6,1201.8L520.6,1201.5L527.6,1201.1L534.6,1200.7L541.6,1200.4L548.6,1200.1L555.6,1199.8L562.6,1199.5L569.6,1199.2L576.6,1199.0L583.6,1198.7L590.6,1198.5L597.6,1198.3L604.6,1198.1L611.6,1197.9L618.6,1197.7L625.6,1197.6L632.5,1197.4L639.5,1197.3L646.5,1197.1L653.6,1197.0L660.6,1196.9L667.6,1196.8L674.6,1196.7L681.6,1196.6L688.6,1196.5L695.6,1196.4L702.6,1196.3L709.6,1196.3L716.6,1196.2L723.6,1196.1L730.6,1196.1L737.6,1196.0L744.6,1196.0L751.6,1196.0L758.6,1195.9L765.6,1195.9L772.6,1195.9L779.6,1195.8L786.6,1195.8L793.6,1195.8L800.6,1195.8L807.6,1195.7L814.6,1195.7L821.6,1195.7L828.7,1195.7L835.7,1195.6L842.7,1195.6L849.7,1195.6L856.7,1195.5L863.7,1195.5L870.7,1195.5L877.7,1195.4L884.7,1195.4L891.7,1195.3L898.7,1195.3L905.7,1195.2L912.7,1195.2L919.7,1195.1L926.7,1195.0L933.8,1195.0L940.8,1194.9L947.8,1194.8L954.8,1194.7L961.8,1194.6L968.8,1194.5L975.8,1194.4L982.8,1194.2L989.8,1194.1L996.8,1194.0L1003.8,1193.8L1010.8,1193.7L1017.8,1193.5L1024.8,1193.3L1031.8,1193.2L1038.8,1193.0L1045.8,1192.8L1052.8,1192.6L1059.8,1192.3L1066.8,1192.1L1073.8,1191.9L1080.8,1191.6L1087.8,1191.3L1094.8,1191.1L1101.8,1190.8L1108.8,1190.5L1115.8,1190.1L1122.8,1189.8L1129.8,1189.5L1136.8,1189.1L1143.7,1188.7L1150.7,1188.3L1157.7,1187.9L1164.7,1187.5L1171.7,1187.1L1178.7,1186.6L1185.7,1186.2L1192.7,1185.7L1199.6,1185.2L1206.6,1184.7L1213.6,1184.1L1220.6,1183.6L1227.6,1183.0L1234.5,1182.4L1241.5,1181.8L1248.5,1181.2L1255.5,1180.6L1262.4,1179.9L1269.4,1179.2L1276.4,1178.5L1283.3,1177.8L1290.3,1177.1L1297.3,1176.3L1304.2,1175.5L1311.2,1174.7L1318.1,1173.9L1325.1,1173.0L1332.0,1172.2L1339.0,1171.3L1345.9,1170.3L1352.9,1169.4L1359.8,1168.4L1366.8,1167.5L1373.7,1166.4L1380.6,1165.4L1387.6,1164.4L1394.5,1163.3L1401.4,1162.3L1408.3,1161.2L1415.3,1160.2L1422.2,1159.1L1429.1,1158.1L1436.1,1157.1L1443.0,1156.1L1449.9,1155.1L1456.9,1154.1L1463.8,1153.2L1470.8,1152.4L1477.7,1151.5L1484.6,1150.7L1491.6,1149.8L1498.5,1149.0L1505.5,1148.1L1512.4,1147.3L1519.4,1146.3L1526.3,1145.4L1533.2,1144.4L1540.1,1143.3L1547.1,1142.1L1554.0,1140.9L1560.9,1139.7L1567.7,1138.3L1574.6,1137.0L1581.5,1135.5L1588.3,1134.1L1595.2,1132.6L1602.0,1131.1L1608.8,1129.5L1615.7,1128.0L1622.5,1126.4L1629.3,1124.8L1636.0,1123.2L1642.8,1121.6L1649.6,1119.9L1656.4,1118.2L1663.1,1116.5L1669.9,1114.7L1676.7,1112.8L1683.5,1110.9L1690.2,1108.9L1697.0,1106.9L1703.8,1104.9L1710.6,1103.1L1717.4,1101.4L1724.2,1100.1L1731.0,1099.2L1737.9,1098.7L1744.8,1098.7L1751.7,1099.3L1758.6,1100.7L1765.5,1102.8L1759.0,1105.4L1752.6,1108.1L1746.2,1111.0L1739.8,1114.0L1733.5,1117.0L1727.2,1120.1L1720.9,1123.1L1714.5,1126.1L1708.2,1129.1L1701.8,1132.0L1695.4,1134.8L1688.9,1137.5L1682.4,1140.1L1675.9,1142.5L1669.3,1144.7L1662.6,1146.8L1655.9,1148.6L1649.1,1150.3L1642.3,1151.8L1635.4,1153.1L1628.5,1154.3L1621.6,1155.4L1614.6,1156.3L1607.6,1157.2L1600.6,1158.1L1593.6,1158.9L1586.6,1159.7L1579.6,1160.5L1572.6,1161.3L1565.6,1162.1L1558.6,1162.9L1551.6,1163.8L1544.7,1164.6L1537.7,1165.5L1530.7,1166.3L1523.7,1167.2L1516.8,1168.0L1509.8,1168.8L1502.8,1169.6L1495.9,1170.4L1488.9,1171.2L1481.9,1171.9L1474.9,1172.7L1467.9,1173.4L1461.0,1174.1L1454.0,1174.8L1447.0,1175.5L1440.0,1176.1L1433.0,1176.8L1426.0,1177.4L1419.0,1178.1L1412.1,1178.7L1405.1,1179.3L1398.1,1179.8L1391.1,1180.4L1384.1,1181.0L1377.1,1181.5L1370.1,1182.0L1363.1,1182.5L1356.1,1183.1L1349.1,1183.5L1342.1,1184.0L1335.1,1184.5L1328.1,1185.0L1321.1,1185.4L1314.0,1185.9L1307.0,1186.3L1300.0,1186.7L1293.0,1187.1L1286.0,1187.5L1279.0,1187.9L1272.0,1188.3L1265.0,1188.6L1258.0,1189.0L1250.9,1189.4L1243.9,1189.7L1236.9,1190.0L1229.9,1190.4L1222.9,1190.7L1215.9,1191.0L1208.9,1191.3L1201.8,1191.6L1194.8,1191.9L1187.8,1192.2L1180.8,1192.5L1173.8,1192.7L1166.7,1193.0L1159.7,1193.3L1152.7,1193.5L1145.7,1193.8L1138.7,1194.0L1131.7,1194.3L1124.6,1194.5L1117.6,1194.7L1110.6,1195.0L1103.6,1195.2L1096.6,1195.4L1089.5,1195.6L1082.5,1195.8L1075.5,1196.0L1068.5,1196.2L1061.5,1196.4L1054.4,1196.6L1047.4,1196.8L1040.4,1197.0L1033.4,1197.2L1026.4,1197.3L1019.3,1197.5L1012.3,1197.7L1005.3,1197.8L998.3,1198.0L991.3,1198.2L984.2,1198.3L977.2,1198.5L970.2,1198.6L963.2,1198.8L956.2,1198.9L949.1,1199.1L942.1,1199.2L935.1,1199.3L928.1,1199.5L921.1,1199.6L914.0,1199.7L907.0,1199.9L900.0,1200.0L893.0,1200.1L886.0,1200.2L878.9,1200.3L871.9,1200.5L864.9,1200.6L857.9,1200.7L850.9,1200.8L843.8,1200.9L836.8,1201.0L829.8,1201.1L822.8,1201.2L815.8,1201.3L808.7,1201.4L801.7,1201.5L794.7,1201.6L787.7,1201.7L780.7,1201.8L773.6,1201.9L766.6,1202.0L759.6,1202.1L752.6,1202.2L745.6,1202.3L738.5,1202.4L731.5,1202.5L724.5,1202.6L717.5,1202.7L710.5,1202.8L703.4,1202.9L696.4,1202.9L689.4,1203.0L682.4,1203.1L675.3,1203.2L668.3,1203.3L661.3,1203.4L654.3,1203.5L647.3,1203.6L640.2,1203.7L633.2,1203.8L626.2,1203.9L619.2,1204.0L612.2,1204.1L605.1,1204.2L598.1,1204.3L591.1,1204.4L584.1,1204.5L577.1,1204.6L570.0,1204.7L563.0,1204.8L556.0,1204.9L549.0,1205.0L542.0,1205.1L534.9,1205.2L527.9,1205.3L520.9,1205.5L513.9,1205.6L506.8,1205.7L499.8,1205.8L492.8,1205.9L485.8,1206.1L478.8,1206.2L471.7,1206.3L464.7,1206.5L457.7,1206.6"/>
<path class="cv" stroke="#9400FF" d="M457.7,1205.7L464.7,1205.0L471.7,1204.3L478.7,1203.7L485.7,1203.1L492.7,1202.6L499.7,1202.1L506.7,1201.7L513.7,1201.2L520.7,1200.9L527.8,1200.5L534.8,1200.2L541.8,1199.9L548.8,1199.7L555.8,1199.4L562.9,1199.2L569.9,1199.0L576.9,1198.8L583.9,1198.7L591.0,1198.5L598.0,1198.4L605.0,1198.3L612.1,1198.2L619.1,1198.0L626.1,1197.9L633.1,1197.8L640.2,1197.7L647.2,1197.6L654.2,1197.5L661.2,1197.4L668.3,1197.3L675.3,1197.2L682.3,1197.1L689.3,1197.0L696.4,1196.9L703.4,1196.8L710.4,1196.8L717.4,1196.7L724.5,1196.6L731.5,1196.5L738.5,1196.5L745.5,1196.4L752.6,1196.3L759.6,1196.3L766.6,1196.2L773.6,1196.2L780.7,1196.1L787.7,1196.1L794.7,1196.0L801.7,1196.0L808.8,1195.9L815.8,1195.9L822.8,1195.8L829.8,1195.8L836.9,1195.7L843.9,1195.7L850.9,1195.7L858.0,1195.6L865.0,1195.6L872.0,1195.5L879.0,1195.5L886.1,1195.4L893.1,1195.4L900.1,1195.3L907.1,1195.3L914.2,1195.2L921.2,1195.2L928.2,1195.1L935.3,1195.1L942.3,1195.0L949.3,1194.9L956.3,1194.8L963.4,1194.8L970.4,1194.7L977.4,1194.6L984.4,1194.5L991.5,1194.4L998.5,1194.3L1005.5,1194.2L1012.6,1194.1L1019.6,1193.9L1026.6,1193.8L1033.6,1193.7L1040.7,1193.5L1047.7,1193.4L1054.7,1193.2L1061.7,1193.0L1068.7,1192.8L1075.8,1192.7L1082.8,1192.5L1089.8,1192.2L1096.8,1192.0L1103.9,1191.8L1110.9,1191.6L1117.9,1191.3L1124.9,1191.0L1131.9,1190.8L1139.0,1190.5L1146.0,1190.2L1153.0,1189.9L1160.0,1189.6L1167.0,1189.2L1174.1,1188.9L1181.1,1188.5L1188.1,1188.2L1195.1,1187.8L1202.1,1187.4L1209.1,1187.0L1216.2,1186.6L1223.2,1186.1L1230.2,1185.7L1237.2,1185.2L1244.2,1184.8L1251.2,1184.3L1258.2,1183.8L1265.2,1183.3L1272.2,1182.7L1279.2,1182.2L1286.2,1181.6L1293.2,1181.1L1300.2,1180.5L1307.2,1179.9L1314.2,1179.3L1321.2,1178.7L1328.2,1178.0L1335.2,1177.4L1342.2,1176.7L1349.2,1176.1L1356.2,1175.4L1363.2,1174.7L1370.2,1174.0L1377.2,1173.3L1384.2,1172.5L1391.2,1171.8L1398.1,1171.1L1405.1,1170.4L1412.1,1169.6L1419.1,1168.9L1426.1,1168.2L1433.1,1167.4L1440.1,1166.7L1447.1,1166.0L1454.1,1165.3L1461.0,1164.6L1468.0,1164.0L1475.0,1163.3L1482.0,1162.7L1489.0,1162.0L1496.0,1161.4L1503.1,1160.8L1510.1,1160.2L1517.1,1159.7L1524.1,1159.1L1531.1,1158.6L1538.1,1158.1L1545.2,1157.6L1552.2,1157.0L1559.2,1156.5L1566.2,1155.9L1573.2,1155.3L1580.2,1154.6L1587.2,1153.9L1594.1,1153.2L1601.1,1152.3L1608.1,1151.4L1615.0,1150.5L1621.9,1149.4L1628.9,1148.3L1635.8,1147.0L1642.6,1145.7L1649.5,1144.3L1656.4,1142.7L1663.2,1141.1L1670.0,1139.4L1676.8,1137.5L1683.6,1135.6L1690.3,1133.5L1697.1,1131.4L1703.8,1129.3L1710.6,1127.3L1717.3,1125.5L1724.1,1123.9L1730.9,1122.5L1737.7,1121.6L1744.6,1121.1L1751.5,1121.1L1758.5,1121.7L1765.5,1123.0L1758.8,1124.9L1752.1,1127.0L1745.4,1129.2L1738.7,1131.5L1732.1,1133.8L1725.4,1136.2L1718.8,1138.6L1712.1,1140.8L1705.4,1143.0L1698.7,1145.0L1691.9,1146.9L1685.1,1148.6L1678.3,1150.1L1671.4,1151.5L1664.5,1152.8L1657.6,1154.0L1650.7,1155.1L1643.7,1156.1L1636.8,1157.1L1629.8,1158.0L1622.9,1158.9L1615.9,1159.8L1608.9,1160.6L1602.0,1161.5L1595.0,1162.3L1588.0,1163.2L1581.0,1164.0L1574.0,1164.8L1567.1,1165.6L1560.1,1166.4L1553.1,1167.2L1546.1,1168.0L1539.1,1168.7L1532.1,1169.5L1525.1,1170.2L1518.1,1171.0L1511.1,1171.7L1504.1,1172.4L1497.1,1173.1L1490.1,1173.8L1483.1,1174.4L1476.1,1175.1L1469.1,1175.8L1462.1,1176.4L1455.1,1177.0L1448.1,1177.6L1441.1,1178.2L1434.1,1178.8L1427.1,1179.4L1420.1,1180.0L1413.1,1180.5L1406.1,1181.1L1399.1,1181.6L1392.1,1182.1L1385.1,1182.6L1378.1,1183.1L1371.1,1183.6L1364.0,1184.1L1357.0,1184.5L1350.0,1185.0L1343.0,1185.4L1336.0,1185.9L1329.0,1186.3L1322.0,1186.7L1314.9,1187.1L1307.9,1187.5L1300.9,1187.9L1293.9,1188.3L1286.9,1188.7L1279.8,1189.0L1272.8,1189.4L1265.8,1189.7L1258.8,1190.1L1251.8,1190.4L1244.7,1190.7L1237.7,1191.1L1230.7,1191.4L1223.7,1191.7L1216.7,1192.0L1209.6,1192.2L1202.6,1192.5L1195.6,1192.8L1188.6,1193.1L1181.5,1193.3L1174.5,1193.6L1167.5,1193.8L1160.5,1194.1L1153.4,1194.3L1146.4,1194.5L1139.4,1194.8L1132.4,1195.0L1125.3,1195.2L1118.3,1195.4L1111.3,1195.6L1104.3,1195.8L1097.2,1196.0L1090.2,1196.2L1083.2,1196.4L1076.2,1196.6L1069.1,1196.8L1062.1,1197.0L1055.1,1197.2L1048.1,1197.3L1041.0,1197.5L1034.0,1197.7L1027.0,1197.8L1019.9,1198.0L1012.9,1198.1L1005.9,1198.3L998.9,1198.4L991.8,1198.6L984.8,1198.7L977.8,1198.9L970.8,1199.0L963.7,1199.1L956.7,1199.3L949.7,1199.4L942.6,1199.5L935.6,1199.6L928.6,1199.8L921.6,1199.9L914.5,1200.0L907.5,1200.1L900.5,1200.2L893.4,1200.3L886.4,1200.5L879.4,1200.6L872.4,1200.7L865.3,1200.8L858.3,1200.9L851.3,1201.0L844.3,1201.1L837.2,1201.2L830.2,1201.3L823.2,1201.4L816.1,1201.5L809.1,1201.6L802.1,1201.7L795.1,1201.8L788.0,1201.8L781.0,1201.9L774.0,1202.0L766.9,1202.1L759.9,1202.2L752.9,1202.3L745.9,1202.4L738.8,1202.5L731.8,1202.6L724.8,1202.6L717.7,1202.7L710.7,1202.8L703.7,1202.9L696.7,1203.0L689.6,1203.1L682.6,1203.2L675.6,1203.3L668.5,1203.3L661.5,1203.4L654.5,1203.5L647.5,1203.6L640.4,1203.7L633.4,1203.8L626.4,1203.9L619.3,1204.0L612.3,1204.1L605.3,1204.2L598.3,1204.3L591.2,1204.4L584.2,1204.5L577.2,1204.6L570.1,1204.7L563.1,1204.8L556.1,1204.9L549.1,1205.0L542.0,1205.1L535.0,1205.2L528.0,1205.3L520.9,1205.5L513.9,1205.6L506.9,1205.7L499.9,1205.8L492.8,1205.9L485.8,1206.1L478.8,1206.2L471.8,1206.3L464.7,1206.5L457.7,1206.6"/>
<path class="cv" stroke="#940086" d="M457.7,1205.8L464.7,1205.4L471.7,1204.9L478.7,1204.4L485.7,1204.0L492.7,1203.6L499.7,1203.1L506.7,1202.8L513.7,1202.4L520.7,1202.0L527.7,1201.7L534.7,1201.3L541.7,1201.0L548.7,1200.7L555.7,1200.4L562.7,1200.1L569.8,1199.8L576.8,1199.6L583.8,1199.3L590.8,1199.1L597.8,1198.9L604.8,1198.7L611.8,1198.5L618.8,1198.3L625.8,1198.1L632.9,1197.9L639.9,1197.8L646.9,1197.6L653.9,1197.5L660.9,1197.4L667.9,1197.2L674.9,1197.1L681.9,1197.0L689.0,1196.9L696.0,1196.8L703.0,1196.7L710.0,1196.7L717.0,1196.6L724.0,1196.5L731.1,1196.4L738.1,1196.4L745.1,1196.3L752.1,1196.3L759.1,1196.2L766.1,1196.2L773.2,1196.2L780.2,1196.1L787.2,1196.1L794.2,1196.1L801.2,1196.1L808.2,1196.0L815.3,1196.0L822.3,1196.0L829.3,1196.0L836.3,1196.0L843.3,1196.0L850.4,1195.9L857.4,1195.9L864.4,1195.9L871.4,1195.9L878.4,1195.9L885.5,1195.9L892.5,1195.9L899.5,1195.8L906.5,1195.8L913.5,1195.8L920.5,1195.8L927.6,1195.7L934.6,1195.7L941.6,1195.7L948.6,1195.6L955.6,1195.6L962.7,1195.5L969.7,1195.5L976.7,1195.4L983.7,1195.4L990.7,1195.3L997.7,1195.2L1004.8,1195.1L1011.8,1195.0L1018.8,1194.9L1025.8,1194.8L1032.8,1194.7L1039.8,1194.6L1046.8,1194.5L1053.9,1194.4L1060.9,1194.2L1067.9,1194.1L1074.9,1193.9L1081.9,1193.7L1088.9,1193.5L1095.9,1193.4L1102.9,1193.2L1110.0,1192.9L1117.0,1192.7L1124.0,1192.5L1131.0,1192.2L1138.0,1192.0L1145.0,1191.7L1152.0,1191.4L1159.0,1191.1L1166.0,1190.8L1173.0,1190.5L1180.0,1190.1L1187.0,1189.8L1194.0,1189.4L1201.1,1189.1L1208.1,1188.7L1215.1,1188.3L1222.1,1187.9L1229.1,1187.5L1236.1,1187.1L1243.1,1186.6L1250.1,1186.2L1257.1,1185.7L1264.1,1185.3L1271.1,1184.8L1278.1,1184.4L1285.1,1183.9L1292.1,1183.4L1299.1,1182.9L1306.1,1182.4L1313.1,1181.9L1320.1,1181.4L1327.1,1180.9L1334.1,1180.4L1341.1,1179.9L1348.1,1179.3L1355.1,1178.8L1362.1,1178.3L1369.1,1177.8L1376.1,1177.2L1383.1,1176.7L1390.1,1176.2L1397.1,1175.6L1404.1,1175.1L1411.1,1174.5L1418.0,1174.0L1425.0,1173.5L1432.0,1172.9L1439.0,1172.4L1446.0,1171.8L1453.0,1171.3L1460.0,1170.8L1467.0,1170.2L1474.0,1169.7L1481.0,1169.2L1488.0,1168.7L1495.0,1168.2L1502.0,1167.6L1509.0,1167.1L1516.0,1166.6L1523.0,1166.1L1530.0,1165.6L1537.0,1165.1L1544.0,1164.6L1551.0,1164.1L1558.0,1163.5L1565.0,1163.0L1572.0,1162.4L1579.0,1161.8L1586.0,1161.1L1592.9,1160.5L1599.9,1159.8L1606.9,1159.0L1613.8,1158.2L1620.8,1157.3L1627.7,1156.4L1634.7,1155.5L1641.6,1154.5L1648.5,1153.4L1655.4,1152.2L1662.3,1151.0L1669.2,1149.7L1676.1,1148.3L1683.0,1146.9L1689.8,1145.3L1696.7,1143.6L1703.5,1141.9L1710.4,1140.1L1717.2,1138.4L1724.0,1136.9L1730.9,1135.6L1737.7,1134.6L1744.6,1134.1L1751.5,1134.1L1758.5,1134.7L1765.5,1136.0L1758.8,1138.0L1752.0,1140.0L1745.2,1141.9L1738.4,1143.7L1731.7,1145.5L1724.9,1147.2L1718.0,1148.9L1711.2,1150.5L1704.4,1152.0L1697.5,1153.5L1690.7,1155.0L1683.8,1156.4L1677.0,1157.8L1670.1,1159.1L1663.2,1160.4L1656.3,1161.6L1649.4,1162.8L1642.5,1163.9L1635.6,1165.0L1628.7,1166.1L1621.7,1167.1L1614.8,1168.1L1607.9,1169.1L1600.9,1170.0L1594.0,1170.9L1587.0,1171.7L1580.0,1172.5L1573.1,1173.3L1566.1,1174.1L1559.1,1174.8L1552.1,1175.5L1545.1,1176.2L1538.2,1176.9L1531.2,1177.5L1524.2,1178.1L1517.2,1178.7L1510.2,1179.3L1503.2,1179.9L1496.2,1180.4L1489.2,1180.9L1482.2,1181.4L1475.1,1181.9L1468.1,1182.4L1461.1,1182.9L1454.1,1183.4L1447.1,1183.8L1440.1,1184.2L1433.1,1184.7L1426.1,1185.1L1419.1,1185.5L1412.1,1185.9L1405.0,1186.3L1398.0,1186.7L1391.0,1187.1L1384.0,1187.5L1377.0,1187.8L1370.0,1188.2L1363.0,1188.5L1356.0,1188.8L1348.9,1189.2L1341.9,1189.5L1334.9,1189.8L1327.9,1190.1L1320.9,1190.4L1313.9,1190.7L1306.9,1191.0L1299.8,1191.3L1292.8,1191.5L1285.8,1191.8L1278.8,1192.1L1271.8,1192.3L1264.8,1192.6L1257.8,1192.8L1250.7,1193.0L1243.7,1193.3L1236.7,1193.5L1229.7,1193.7L1222.7,1193.9L1215.7,1194.1L1208.6,1194.3L1201.6,1194.5L1194.6,1194.7L1187.6,1194.9L1180.6,1195.1L1173.6,1195.3L1166.5,1195.5L1159.5,1195.6L1152.5,1195.8L1145.5,1196.0L1138.5,1196.1L1131.5,1196.3L1124.4,1196.5L1117.4,1196.6L1110.4,1196.8L1103.4,1196.9L1096.4,1197.1L1089.4,1197.2L1082.3,1197.3L1075.3,1197.5L1068.3,1197.6L1061.3,1197.7L1054.3,1197.9L1047.2,1198.0L1040.2,1198.1L1033.2,1198.3L1026.2,1198.4L1019.2,1198.5L1012.2,1198.6L1005.1,1198.8L998.1,1198.9L991.1,1199.0L984.1,1199.1L977.1,1199.2L970.1,1199.3L963.0,1199.4L956.0,1199.6L949.0,1199.7L942.0,1199.8L935.0,1199.9L927.9,1200.0L920.9,1200.1L913.9,1200.2L906.9,1200.3L899.9,1200.4L892.9,1200.5L885.8,1200.6L878.8,1200.7L871.8,1200.8L864.8,1200.9L857.8,1201.0L850.7,1201.1L843.7,1201.2L836.7,1201.2L829.7,1201.3L822.7,1201.4L815.6,1201.5L808.6,1201.6L801.6,1201.7L794.6,1201.8L787.6,1201.9L780.6,1202.0L773.5,1202.1L766.5,1202.2L759.5,1202.2L752.5,1202.3L745.5,1202.4L738.4,1202.5L731.4,1202.6L724.4,1202.7L717.4,1202.8L710.4,1202.9L703.4,1203.0L696.3,1203.0L689.3,1203.1L682.3,1203.2L675.3,1203.3L668.3,1203.4L661.2,1203.5L654.2,1203.6L647.2,1203.7L640.2,1203.8L633.2,1203.9L626.1,1204.0L619.1,1204.1L612.1,1204.2L605.1,1204.3L598.1,1204.4L591.1,1204.5L584.0,1204.6L577.0,1204.7L570.0,1204.8L563.0,1204.9L556.0,1205.0L548.9,1205.1L541.9,1205.2L534.9,1205.3L527.9,1205.4L520.9,1205.5L513.8,1205.6L506.8,1205.8L499.8,1205.9L492.8,1206.0L485.8,1206.1L478.8,1206.2L471.7,1206.3L464.7,1206.5L457.7,1206.6"/>
<path class="cv" stroke="#940000" d="M457.7,1206.0L464.7,1205.4L471.7,1204.9L478.7,1204.3L485.7,1203.8L492.7,1203.3L499.7,1202.9L506.7,1202.4L513.7,1202.0L520.7,1201.6L527.7,1201.2L534.7,1200.9L541.7,1200.5L548.7,1200.2L555.7,1199.9L562.7,1199.7L569.7,1199.4L576.7,1199.2L583.7,1198.9L590.7,1198.7L597.7,1198.5L604.7,1198.4L611.7,1198.2L618.7,1198.0L625.7,1197.9L632.7,1197.8L639.7,1197.7L646.7,1197.6L653.7,1197.5L660.7,1197.4L667.7,1197.3L674.8,1197.2L681.8,1197.2L688.8,1197.1L695.8,1197.1L702.8,1197.1L709.8,1197.0L716.8,1197.0L723.8,1197.0L730.8,1197.0L737.9,1197.0L744.9,1197.0L751.9,1197.0L758.9,1197.0L765.9,1197.0L772.9,1197.0L779.9,1197.0L786.9,1197.0L793.9,1197.0L801.0,1196.9L808.0,1196.9L815.0,1196.9L822.0,1196.9L829.0,1196.9L836.0,1196.9L843.0,1196.9L850.0,1196.9L857.1,1196.9L864.1,1196.9L871.1,1196.8L878.1,1196.8L885.1,1196.8L892.1,1196.8L899.1,1196.7L906.1,1196.7L913.1,1196.7L920.2,1196.6L927.2,1196.6L934.2,1196.5L941.2,1196.5L948.2,1196.4L955.2,1196.4L962.2,1196.3L969.2,1196.2L976.2,1196.1L983.3,1196.1L990.3,1196.0L997.3,1195.9L1004.3,1195.8L1011.3,1195.7L1018.3,1195.6L1025.3,1195.5L1032.3,1195.4L1039.3,1195.2L1046.3,1195.1L1053.3,1195.0L1060.4,1194.8L1067.4,1194.7L1074.4,1194.5L1081.4,1194.4L1088.4,1194.2L1095.4,1194.0L1102.4,1193.8L1109.4,1193.6L1116.4,1193.4L1123.4,1193.2L1130.4,1193.0L1137.4,1192.8L1144.4,1192.5L1151.4,1192.3L1158.4,1192.0L1165.4,1191.8L1172.5,1191.5L1179.5,1191.2L1186.5,1191.0L1193.5,1190.7L1200.5,1190.4L1207.5,1190.1L1214.5,1189.7L1221.5,1189.4L1228.5,1189.1L1235.5,1188.8L1242.5,1188.4L1249.5,1188.1L1256.5,1187.7L1263.5,1187.4L1270.5,1187.0L1277.5,1186.6L1284.5,1186.2L1291.5,1185.9L1298.5,1185.5L1305.5,1185.1L1312.5,1184.7L1319.5,1184.3L1326.5,1183.9L1333.5,1183.5L1340.5,1183.1L1347.5,1182.6L1354.5,1182.2L1361.5,1181.8L1368.5,1181.4L1375.5,1180.9L1382.5,1180.5L1389.5,1180.1L1396.5,1179.6L1403.5,1179.2L1410.5,1178.7L1417.5,1178.3L1424.5,1177.8L1431.5,1177.4L1438.5,1177.0L1445.4,1176.5L1452.4,1176.0L1459.4,1175.6L1466.4,1175.1L1473.4,1174.7L1480.4,1174.2L1487.4,1173.8L1494.4,1173.3L1501.4,1172.9L1508.4,1172.4L1515.4,1172.0L1522.4,1171.5L1529.4,1171.1L1536.4,1170.6L1543.4,1170.1L1550.4,1169.7L1557.4,1169.2L1564.4,1168.6L1571.4,1168.1L1578.4,1167.6L1585.3,1167.0L1592.3,1166.4L1599.3,1165.7L1606.3,1165.0L1613.2,1164.3L1620.2,1163.6L1627.2,1162.8L1634.1,1162.0L1641.1,1161.1L1648.0,1160.1L1654.9,1159.2L1661.9,1158.2L1668.8,1157.1L1675.7,1156.0L1682.6,1154.8L1689.5,1153.6L1696.4,1152.3L1703.3,1151.0L1710.2,1149.6L1717.1,1148.3L1724.0,1147.1L1730.9,1146.0L1737.8,1145.2L1744.7,1144.6L1751.6,1144.3L1758.5,1144.5L1765.5,1145.0L1758.7,1147.0L1752.0,1148.9L1745.2,1150.8L1738.4,1152.6L1731.6,1154.3L1724.8,1155.9L1718.0,1157.5L1711.1,1159.0L1704.3,1160.5L1697.4,1161.9L1690.6,1163.2L1683.7,1164.5L1676.8,1165.7L1669.9,1166.9L1663.0,1168.0L1656.1,1169.1L1649.2,1170.1L1642.3,1171.1L1635.3,1172.0L1628.4,1172.9L1621.4,1173.7L1614.5,1174.6L1607.5,1175.3L1600.6,1176.1L1593.6,1176.8L1586.6,1177.4L1579.6,1178.1L1572.6,1178.7L1565.6,1179.3L1558.7,1179.8L1551.7,1180.4L1544.7,1180.9L1537.7,1181.4L1530.7,1181.8L1523.6,1182.3L1516.6,1182.7L1509.6,1183.2L1502.6,1183.6L1495.6,1184.0L1488.6,1184.4L1481.6,1184.8L1474.6,1185.2L1467.6,1185.6L1460.6,1185.9L1453.5,1186.3L1446.5,1186.7L1439.5,1187.0L1432.5,1187.4L1425.5,1187.7L1418.5,1188.1L1411.5,1188.4L1404.5,1188.7L1397.5,1189.0L1390.4,1189.3L1383.4,1189.7L1376.4,1190.0L1369.4,1190.3L1362.4,1190.6L1355.4,1190.8L1348.4,1191.1L1341.4,1191.4L1334.4,1191.7L1327.4,1191.9L1320.3,1192.2L1313.3,1192.5L1306.3,1192.7L1299.3,1193.0L1292.3,1193.2L1285.3,1193.4L1278.3,1193.7L1271.3,1193.9L1264.3,1194.1L1257.2,1194.3L1250.2,1194.6L1243.2,1194.8L1236.2,1195.0L1229.2,1195.2L1222.2,1195.4L1215.2,1195.6L1208.2,1195.8L1201.2,1195.9L1194.2,1196.1L1187.1,1196.3L1180.1,1196.5L1173.1,1196.6L1166.1,1196.8L1159.1,1197.0L1152.1,1197.1L1145.1,1197.3L1138.1,1197.4L1131.0,1197.6L1124.0,1197.7L1117.0,1197.9L1110.0,1198.0L1103.0,1198.2L1096.0,1198.3L1089.0,1198.4L1082.0,1198.5L1074.9,1198.7L1067.9,1198.8L1060.9,1198.9L1053.9,1199.0L1046.9,1199.1L1039.9,1199.2L1032.9,1199.4L1025.9,1199.5L1018.8,1199.6L1011.8,1199.7L1004.8,1199.8L997.8,1199.9L990.8,1200.0L983.8,1200.1L976.8,1200.1L969.7,1200.2L962.7,1200.3L955.7,1200.4L948.7,1200.5L941.7,1200.6L934.7,1200.7L927.7,1200.7L920.6,1200.8L913.6,1200.9L906.6,1201.0L899.6,1201.1L892.6,1201.1L885.6,1201.2L878.6,1201.3L871.5,1201.4L864.5,1201.4L857.5,1201.5L850.5,1201.6L843.5,1201.6L836.5,1201.7L829.5,1201.8L822.4,1201.8L815.4,1201.9L808.4,1202.0L801.4,1202.0L794.4,1202.1L787.4,1202.2L780.3,1202.2L773.3,1202.3L766.3,1202.4L759.3,1202.4L752.3,1202.5L745.3,1202.6L738.3,1202.7L731.2,1202.7L724.2,1202.8L717.2,1202.9L710.2,1202.9L703.2,1203.0L696.2,1203.1L689.2,1203.2L682.1,1203.2L675.1,1203.3L668.1,1203.4L661.1,1203.5L654.1,1203.5L647.1,1203.6L640.1,1203.7L633.0,1203.8L626.0,1203.9L619.0,1204.0L612.0,1204.1L605.0,1204.2L598.0,1204.2L591.0,1204.3L583.9,1204.4L576.9,1204.5L569.9,1204.6L562.9,1204.7L555.9,1204.8L548.9,1205.0L541.9,1205.1L534.8,1205.2L527.8,1205.3L520.8,1205.4L513.8,1205.5L506.8,1205.7L499.8,1205.8L492.8,1205.9L485.8,1206.0L478.7,1206.2L471.7,1206.3L464.7,1206.5L457.7,1206.6"/>
<path class="cv" stroke="#808000" d="M457.7,1206.3L464.7,1205.7L471.7,1205.1L478.7,1204.6L485.7,1204.1L492.6,1203.6L499.6,1203.1L506.6,1202.7L513.6,1202.3L520.6,1201.9L527.6,1201.5L534.6,1201.1L541.6,1200.8L548.6,1200.5L555.6,1200.2L562.6,1199.9L569.6,1199.7L576.6,1199.4L583.6,1199.2L590.6,1199.0L597.6,1198.8L604.6,1198.6L611.6,1198.5L618.6,1198.3L625.6,1198.2L632.6,1198.1L639.6,1198.0L646.6,1197.9L653.6,1197.8L660.6,1197.7L667.6,1197.6L674.6,1197.6L681.6,1197.5L688.6,1197.5L695.6,1197.4L702.6,1197.4L709.6,1197.4L716.7,1197.4L723.7,1197.4L730.7,1197.4L737.7,1197.3L744.7,1197.3L751.7,1197.3L758.7,1197.3L765.7,1197.3L772.7,1197.3L779.7,1197.3L786.7,1197.3L793.7,1197.3L800.7,1197.3L807.8,1197.3L814.8,1197.3L821.8,1197.3L828.8,1197.3L835.8,1197.3L842.8,1197.3L849.8,1197.2L856.8,1197.2L863.8,1197.2L870.8,1197.2L877.8,1197.1L884.8,1197.1L891.8,1197.1L898.8,1197.0L905.8,1197.0L912.9,1196.9L919.9,1196.9L926.9,1196.8L933.9,1196.7L940.9,1196.7L947.9,1196.6L954.9,1196.5L961.9,1196.5L968.9,1196.4L975.9,1196.3L982.9,1196.2L989.9,1196.1L996.9,1196.0L1003.9,1195.9L1010.9,1195.8L1017.9,1195.7L1024.9,1195.6L1031.9,1195.4L1038.9,1195.3L1045.9,1195.2L1052.9,1195.0L1060.0,1194.9L1067.0,1194.7L1074.0,1194.6L1081.0,1194.4L1088.0,1194.2L1095.0,1194.0L1102.0,1193.9L1109.0,1193.7L1116.0,1193.5L1123.0,1193.3L1130.0,1193.1L1137.0,1192.8L1144.0,1192.6L1151.0,1192.4L1158.0,1192.1L1165.0,1191.9L1172.0,1191.7L1179.0,1191.4L1186.0,1191.1L1193.0,1190.9L1200.0,1190.6L1207.0,1190.4L1214.0,1190.1L1221.0,1189.8L1228.0,1189.5L1235.0,1189.3L1242.0,1189.0L1249.0,1188.7L1256.0,1188.4L1263.0,1188.1L1270.0,1187.9L1277.0,1187.6L1284.0,1187.3L1291.0,1187.0L1298.0,1186.7L1305.0,1186.4L1312.0,1186.2L1319.0,1185.9L1326.0,1185.6L1333.0,1185.3L1340.0,1185.1L1347.0,1184.8L1354.0,1184.5L1361.0,1184.3L1368.0,1184.0L1375.0,1183.7L1382.0,1183.5L1389.0,1183.2L1396.0,1182.9L1403.0,1182.7L1410.0,1182.4L1417.0,1182.1L1424.0,1181.9L1431.0,1181.6L1438.0,1181.3L1445.0,1181.0L1452.0,1180.7L1459.0,1180.4L1466.0,1180.0L1473.0,1179.7L1480.0,1179.4L1487.0,1179.0L1494.0,1178.6L1501.0,1178.3L1508.0,1177.9L1515.0,1177.5L1522.0,1177.0L1529.0,1176.6L1536.0,1176.1L1542.9,1175.7L1549.9,1175.2L1556.9,1174.7L1563.9,1174.1L1570.9,1173.6L1577.8,1173.0L1584.8,1172.4L1591.8,1171.7L1598.7,1171.1L1605.7,1170.4L1612.7,1169.6L1619.6,1168.8L1626.6,1168.0L1633.5,1167.2L1640.5,1166.3L1647.4,1165.4L1654.3,1164.4L1661.3,1163.4L1668.2,1162.4L1675.1,1161.3L1682.0,1160.2L1689.0,1159.2L1695.9,1158.1L1702.8,1157.0L1709.7,1156.0L1716.7,1155.1L1723.6,1154.2L1730.6,1153.5L1737.5,1152.8L1744.5,1152.2L1751.5,1151.8L1758.5,1151.5L1765.5,1151.4L1758.8,1153.6L1752.0,1155.6L1745.3,1157.6L1738.5,1159.5L1731.7,1161.3L1724.9,1163.1L1718.1,1164.7L1711.3,1166.3L1704.5,1167.8L1697.6,1169.2L1690.8,1170.6L1683.9,1171.8L1677.0,1173.1L1670.1,1174.2L1663.2,1175.3L1656.3,1176.4L1649.4,1177.3L1642.4,1178.3L1635.5,1179.1L1628.6,1180.0L1621.6,1180.7L1614.6,1181.5L1607.7,1182.2L1600.7,1182.8L1593.7,1183.4L1586.7,1184.0L1579.8,1184.5L1572.8,1185.0L1565.8,1185.5L1558.8,1185.9L1551.8,1186.4L1544.8,1186.8L1537.7,1187.1L1530.7,1187.5L1523.7,1187.8L1516.7,1188.1L1509.7,1188.5L1502.7,1188.8L1495.6,1189.0L1488.6,1189.3L1481.6,1189.6L1474.6,1189.9L1467.6,1190.2L1460.6,1190.4L1453.5,1190.7L1446.5,1191.0L1439.5,1191.2L1432.5,1191.5L1425.5,1191.8L1418.5,1192.0L1411.5,1192.3L1404.4,1192.5L1397.4,1192.7L1390.4,1193.0L1383.4,1193.2L1376.4,1193.4L1369.4,1193.7L1362.4,1193.9L1355.4,1194.1L1348.3,1194.3L1341.3,1194.6L1334.3,1194.8L1327.3,1195.0L1320.3,1195.2L1313.3,1195.4L1306.3,1195.6L1299.3,1195.8L1292.3,1196.0L1285.2,1196.2L1278.2,1196.3L1271.2,1196.5L1264.2,1196.7L1257.2,1196.9L1250.2,1197.0L1243.2,1197.2L1236.2,1197.4L1229.2,1197.5L1222.2,1197.7L1215.1,1197.8L1208.1,1198.0L1201.1,1198.1L1194.1,1198.3L1187.1,1198.4L1180.1,1198.6L1173.1,1198.7L1166.1,1198.8L1159.1,1199.0L1152.1,1199.1L1145.0,1199.2L1138.0,1199.3L1131.0,1199.4L1124.0,1199.5L1117.0,1199.6L1110.0,1199.7L1103.0,1199.8L1096.0,1199.9L1088.9,1200.0L1081.9,1200.1L1074.9,1200.2L1067.9,1200.3L1060.9,1200.3L1053.9,1200.4L1046.9,1200.5L1039.9,1200.6L1032.8,1200.6L1025.8,1200.7L1018.8,1200.8L1011.8,1200.8L1004.8,1200.9L997.8,1201.0L990.8,1201.0L983.7,1201.1L976.7,1201.1L969.7,1201.2L962.7,1201.2L955.7,1201.3L948.7,1201.3L941.6,1201.4L934.6,1201.5L927.6,1201.5L920.6,1201.6L913.6,1201.6L906.6,1201.7L899.6,1201.7L892.5,1201.7L885.5,1201.8L878.5,1201.9L871.5,1201.9L864.5,1202.0L857.5,1202.0L850.4,1202.1L843.4,1202.1L836.4,1202.2L829.4,1202.2L822.4,1202.3L815.4,1202.3L808.4,1202.4L801.3,1202.5L794.3,1202.5L787.3,1202.6L780.3,1202.6L773.3,1202.7L766.3,1202.8L759.3,1202.9L752.2,1202.9L745.2,1203.0L738.2,1203.1L731.2,1203.2L724.2,1203.3L717.2,1203.3L710.2,1203.4L703.2,1203.5L696.1,1203.6L689.1,1203.7L682.1,1203.8L675.1,1203.9L668.1,1204.0L661.1,1204.1L654.1,1204.2L647.1,1204.3L640.0,1204.4L633.0,1204.5L626.0,1204.6L619.0,1204.7L612.0,1204.8L605.0,1204.9L598.0,1205.0L591.0,1205.1L583.9,1205.2L576.9,1205.3L569.9,1205.4L562.9,1205.5L555.9,1205.7L548.9,1205.8L541.9,1205.9L534.9,1206.0L527.8,1206.1L520.8,1206.2L513.8,1206.3L506.8,1206.4L499.8,1206.5L492.8,1206.7L485.8,1206.8L478.7,1206.9L471.7,1207.0L464.7,1207.1L457.7,1207.2"/>
<path d="M1544.5,1180L1587,1177.5" fill="none" stroke="#940000" stroke-width="0.8" stroke-dasharray="14 9"/>
<path d="M1600,1176.3L1624.5,1173.8L1662,1168.8L1687,1164.5L1699.5,1162.5" fill="none" stroke="#940000" stroke-width="0.8"/>
</g>
<g id="axes">
<rect class="ax" x="302.0" y="35.2" width="1635.2" height="1320.2"/>
<path class="ax" d="M276.3,1355.4H302.0M289.1,1277.7H302.0M276.3,1200.1H302.0M289.1,1122.4H302.0M276.3,1044.8H302.0M289.1,967.1H302.0M276.3,889.4H302.0M289.1,811.8H302.0M276.3,734.1H302.0M289.1,656.5H302.0M276.3,578.8H302.0M289.1,501.1H302.0M276.3,423.5H302.0M289.1,345.8H302.0M276.3,268.2H302.0M289.1,190.5H302.0M276.3,112.8H302.0M289.1,35.2H302.0"/>
<path class="ax" d="M302.0,1355.4V1368.3M465.5,1355.4V1381.1M629.0,1355.4V1368.3M792.5,1355.4V1381.1M956.1,1355.4V1368.3M1119.6,1355.4V1381.1M1283.1,1355.4V1368.3M1446.6,1355.4V1381.1M1610.1,1355.4V1368.3M1773.7,1355.4V1381.1M1937.2,1355.4V1368.3"/>
</g>
<g id="labels" class="tk">
<text transform="translate(259.4,1378.0) scale(1,1.04)" text-anchor="end">-20</text>
<text transform="translate(259.4,1222.7) scale(1,1.04)" text-anchor="end">0</text>
<text transform="translate(259.4,1067.4) scale(1,1.04)" text-anchor="end">20</text>
<text transform="translate(259.4,912.0) scale(1,1.04)" text-anchor="end">40</text>
<text transform="translate(259.4,756.7) scale(1,1.04)" text-anchor="end">60</text>
<text transform="translate(259.4,601.4) scale(1,1.04)" text-anchor="end">80</text>
<text transform="translate(259.4,446.1) scale(1,1.04)" text-anchor="end">100</text>
<text transform="translate(259.4,290.8) scale(1,1.04)" text-anchor="end">120</text>
<text transform="translate(259.4,135.4) scale(1,1.04)" text-anchor="end">140</text>
<text transform="translate(465.2,1453.4) scale(1,1.04)" text-anchor="middle">0.0</text>
<text transform="translate(792.2,1453.4) scale(1,1.04)" text-anchor="middle">0.2</text>
<text transform="translate(1119.3,1453.4) scale(1,1.04)" text-anchor="middle">0.4</text>
<text transform="translate(1446.3,1453.4) scale(1,1.04)" text-anchor="middle">0.6</text>
<text transform="translate(1773.4,1453.4) scale(1,1.04)" text-anchor="middle">0.8</text>
<text x="934" y="1567.6" textLength="373.9" lengthAdjust="spacingAndGlyphs">Potential (V)</text>
<text transform="translate(80.3,851.8) rotate(-90)" textLength="393.4" lengthAdjust="spacingAndGlyphs">Current (μA)</text>
<text transform="translate(1830.3,474.0) scale(1,1.04)" text-anchor="start">1</text>
<text transform="translate(1792.3,960.0) scale(1,1.04)" text-anchor="start">10</text>
</g>
<g id="arrow">
<line x1="1847.1" y1="535" x2="1847.1" y2="776" stroke="#000" stroke-width="2"/>
<path d="M1837.9,775.1H1856.9L1847.4,813Z" fill="#000"/>
</g>
</svg>
</body>
</html>
